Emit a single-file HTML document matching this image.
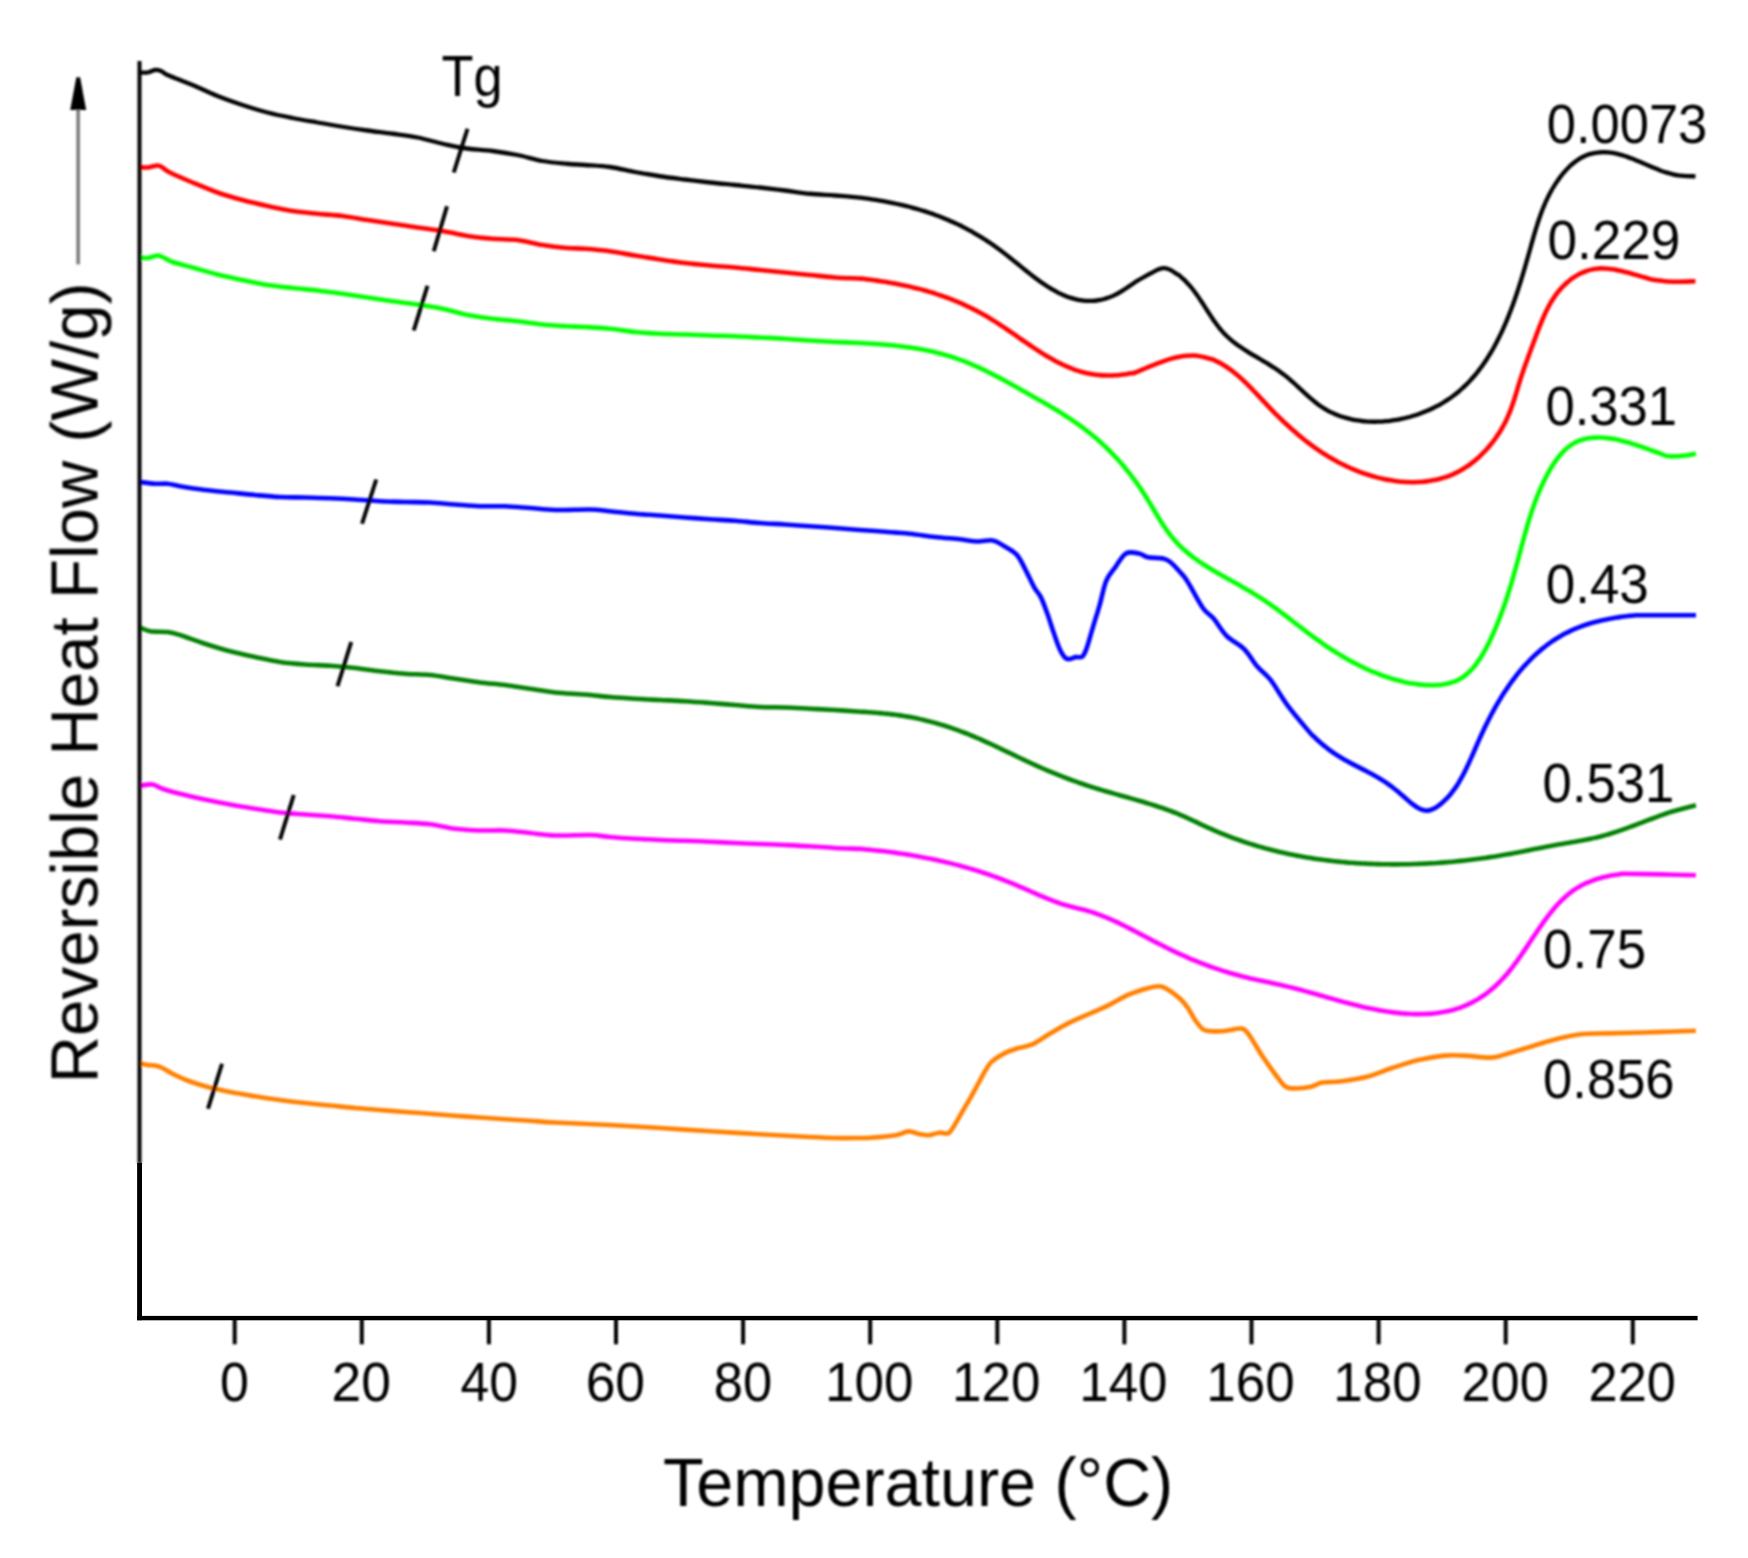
<!DOCTYPE html>
<html><head><meta charset="utf-8"><style>
html,body{margin:0;padding:0;background:#fff;}
svg{display:block;}
text{font-family:"Liberation Sans",Arial,sans-serif;fill:#000;}
</style></head><body>
<svg width="1748" height="1558" viewBox="0 0 1748 1558">
<defs><filter id="bl" filterUnits="userSpaceOnUse" x="0" y="0" width="1748" height="1558"><feGaussianBlur stdDeviation="0.9"/></filter></defs>
<rect width="1748" height="1558" fill="#fff"/>
<g filter="url(#bl)">
<!-- curves -->
<path d="M140.00,72.50 C141.25,72.50 145.00,72.92 147.50,72.50 C150.00,72.08 152.75,70.25 155.00,70.00 C157.25,69.75 158.92,70.17 161.00,71.00 C163.08,71.83 164.33,73.50 167.50,75.00 C170.67,76.50 175.42,78.17 180.00,80.00 C184.58,81.83 188.75,83.33 195.00,86.00 C201.25,88.67 209.58,92.83 217.50,96.00 C225.42,99.17 234.17,102.25 242.50,105.00 C250.83,107.75 259.17,110.33 267.50,112.50 C275.83,114.67 284.17,116.33 292.50,118.00 C300.83,119.67 309.17,121.04 317.50,122.50 C325.83,123.96 334.17,125.42 342.50,126.75 C350.83,128.08 359.17,129.33 367.50,130.50 C375.83,131.67 384.17,132.58 392.50,133.75 C400.83,134.92 409.17,135.83 417.50,137.50 C425.83,139.17 435.00,142.00 442.50,143.75 C450.00,145.50 454.17,146.79 462.50,148.00 C470.83,149.21 483.33,149.83 492.50,151.00 C501.67,152.17 509.17,153.33 517.50,155.00 C525.83,156.67 534.25,159.54 542.50,161.00 C550.75,162.46 559.92,163.08 567.00,163.75 C574.08,164.42 577.83,164.46 585.00,165.00 C592.17,165.54 601.67,165.83 610.00,167.00 C618.33,168.17 626.67,170.46 635.00,172.00 C643.33,173.54 651.67,175.00 660.00,176.25 C668.33,177.50 676.67,178.46 685.00,179.50 C693.33,180.54 701.67,181.58 710.00,182.50 C718.33,183.42 726.67,184.17 735.00,185.00 C743.33,185.83 751.67,186.58 760.00,187.50 C768.33,188.42 776.67,189.46 785.00,190.50 C793.33,191.54 801.67,192.92 810.00,193.75 C818.33,194.58 826.72,194.86 835.00,195.50 C843.28,196.14 854.87,197.15 859.66,197.59 C864.45,198.03 862.38,197.94 863.74,198.12 C865.10,198.30 866.46,198.49 867.82,198.68 C869.18,198.88 870.54,199.08 871.90,199.29 C873.26,199.49 874.62,199.71 875.97,199.93 C877.33,200.15 878.69,200.37 880.04,200.61 C881.40,200.84 882.75,201.08 884.10,201.33 C885.45,201.57 886.80,201.83 888.15,202.09 C889.50,202.35 890.84,202.61 892.18,202.89 C893.52,203.16 894.86,203.44 896.19,203.73 C897.53,204.02 898.86,204.32 900.19,204.62 C901.51,204.92 902.84,205.23 904.16,205.55 C905.47,205.87 906.79,206.19 908.10,206.53 C909.41,206.86 910.71,207.20 912.01,207.55 C913.31,207.89 914.61,208.25 915.89,208.61 C917.18,208.98 918.46,209.35 919.74,209.73 C921.02,210.11 922.29,210.49 923.55,210.89 C924.81,211.28 926.07,211.69 927.32,212.10 C928.57,212.51 929.81,212.93 931.05,213.36 C932.29,213.78 933.52,214.22 934.75,214.67 C935.98,215.11 937.20,215.56 938.41,216.03 C939.63,216.49 940.84,216.96 942.04,217.44 C943.25,217.92 944.45,218.41 945.64,218.90 C946.84,219.40 948.03,219.90 949.21,220.42 C950.40,220.93 951.58,221.46 952.75,221.99 C953.93,222.52 955.10,223.07 956.27,223.62 C957.44,224.17 958.60,224.73 959.76,225.30 C960.92,225.87 962.07,226.45 963.22,227.04 C964.37,227.63 965.52,228.23 966.66,228.83 C967.81,229.44 968.95,230.06 970.08,230.69 C971.22,231.32 972.35,231.95 973.48,232.60 C974.61,233.25 975.74,233.90 976.87,234.57 C977.99,235.24 979.11,235.92 980.23,236.60 C981.35,237.29 982.47,237.99 983.58,238.70 C984.69,239.41 985.81,240.12 986.91,240.85 C988.02,241.58 989.13,242.32 990.24,243.07 C991.34,243.82 992.45,244.58 993.55,245.35 C994.65,246.13 995.75,246.91 996.85,247.70 C997.95,248.49 999.05,249.30 1000.14,250.11 C1001.24,250.93 1002.33,251.75 1003.43,252.59 C1004.52,253.42 1005.62,254.27 1006.71,255.13 C1007.80,255.98 1008.89,256.85 1009.99,257.72 C1011.08,258.59 1012.17,259.47 1013.26,260.35 C1014.35,261.23 1015.45,262.12 1016.54,263.01 C1017.63,263.89 1018.72,264.78 1019.82,265.67 C1020.91,266.56 1022.01,267.45 1023.10,268.33 C1024.20,269.22 1025.30,270.10 1026.40,270.98 C1027.50,271.86 1028.60,272.73 1029.70,273.60 C1030.80,274.46 1031.90,275.33 1033.01,276.17 C1034.12,277.02 1035.23,277.86 1036.34,278.69 C1037.45,279.52 1038.56,280.34 1039.68,281.14 C1040.80,281.94 1041.92,282.73 1043.04,283.51 C1044.17,284.28 1045.29,285.04 1046.42,285.78 C1047.55,286.51 1048.69,287.24 1049.83,287.94 C1050.96,288.64 1052.11,289.32 1053.25,289.98 C1054.40,290.63 1055.55,291.27 1056.71,291.88 C1057.86,292.49 1059.02,293.08 1060.19,293.64 C1061.35,294.20 1062.52,294.73 1063.70,295.24 C1064.88,295.74 1066.06,296.22 1067.25,296.66 C1068.43,297.11 1069.63,297.52 1070.83,297.91 C1072.03,298.29 1073.23,298.64 1074.44,298.95 C1075.65,299.26 1076.87,299.54 1078.09,299.78 C1079.32,300.03 1080.54,300.23 1081.77,300.40 C1083.01,300.57 1084.24,300.70 1085.48,300.79 C1086.72,300.88 1087.96,300.94 1089.21,300.95 C1090.45,300.96 1091.70,300.93 1092.95,300.85 C1094.20,300.78 1095.45,300.66 1096.70,300.50 C1097.95,300.34 1099.21,300.14 1100.46,299.89 C1101.71,299.64 1102.97,299.34 1104.22,299.00 C1105.48,298.65 1106.73,298.26 1107.98,297.82 C1109.23,297.38 1110.49,296.89 1111.74,296.36 C1112.98,295.82 1114.23,295.22 1115.48,294.59 C1116.72,293.96 1117.97,293.27 1119.21,292.56 C1120.45,291.85 1121.69,291.10 1122.93,290.33 C1124.16,289.57 1125.40,288.77 1126.63,287.96 C1127.87,287.16 1129.10,286.33 1130.33,285.51 C1131.56,284.69 1132.78,283.85 1134.01,283.03 C1135.23,282.21 1132.91,283.05 1137.68,280.58 C1142.44,278.11 1155.93,269.21 1162.60,268.20 C1169.27,267.19 1174.69,273.09 1177.72,274.53 C1180.74,275.97 1179.76,276.01 1180.76,276.82 C1181.76,277.63 1182.74,278.49 1183.70,279.39 C1184.67,280.28 1185.61,281.21 1186.54,282.17 C1187.47,283.13 1188.38,284.13 1189.27,285.15 C1190.16,286.16 1191.03,287.20 1191.89,288.26 C1192.74,289.31 1193.58,290.38 1194.39,291.46 C1195.21,292.55 1196.01,293.65 1196.80,294.75 C1197.59,295.86 1198.36,296.97 1199.13,298.10 C1199.90,299.22 1200.65,300.35 1201.40,301.48 C1202.15,302.62 1202.88,303.76 1203.62,304.90 C1204.36,306.04 1205.09,307.18 1205.82,308.32 C1206.55,309.46 1207.28,310.60 1208.01,311.74 C1208.74,312.87 1209.47,314.00 1210.21,315.13 C1210.95,316.25 1211.69,317.37 1212.44,318.48 C1213.19,319.58 1213.94,320.68 1214.71,321.77 C1215.48,322.85 1216.26,323.93 1217.06,324.98 C1217.85,326.04 1218.66,327.08 1219.48,328.10 C1220.31,329.13 1221.15,330.13 1222.01,331.12 C1222.87,332.10 1223.75,333.06 1224.66,334.00 C1225.56,334.94 1226.49,335.85 1227.44,336.75 C1228.39,337.64 1229.36,338.51 1230.35,339.36 C1231.34,340.21 1232.35,341.04 1233.37,341.85 C1234.40,342.67 1235.45,343.46 1236.51,344.24 C1237.57,345.02 1238.64,345.79 1239.73,346.54 C1240.82,347.30 1241.92,348.03 1243.03,348.77 C1244.14,349.50 1245.27,350.22 1246.40,350.93 C1247.53,351.64 1248.68,352.34 1249.82,353.05 C1250.97,353.75 1252.13,354.44 1253.29,355.13 C1254.45,355.82 1255.61,356.51 1256.78,357.20 C1257.95,357.89 1259.12,358.57 1260.29,359.26 C1261.46,359.95 1262.63,360.64 1263.80,361.34 C1264.97,362.04 1266.14,362.73 1267.30,363.44 C1268.47,364.15 1269.63,364.86 1270.78,365.58 C1271.94,366.31 1273.09,367.04 1274.23,367.78 C1275.37,368.53 1276.50,369.28 1277.63,370.05 C1278.75,370.82 1279.86,371.60 1280.97,372.40 C1282.07,373.20 1283.16,374.02 1284.23,374.85 C1285.31,375.69 1286.37,376.54 1287.42,377.41 C1288.47,378.28 1289.51,379.16 1290.54,380.06 C1291.57,380.95 1292.59,381.86 1293.60,382.77 C1294.61,383.68 1295.62,384.60 1296.62,385.53 C1297.62,386.45 1298.62,387.38 1299.61,388.31 C1300.61,389.23 1301.60,390.16 1302.60,391.09 C1303.59,392.01 1304.59,392.93 1305.58,393.84 C1306.58,394.75 1307.58,395.66 1308.59,396.55 C1309.59,397.44 1310.60,398.32 1311.62,399.19 C1312.64,400.05 1313.66,400.91 1314.70,401.74 C1315.74,402.57 1316.78,403.38 1317.84,404.17 C1318.90,404.96 1319.97,405.73 1321.06,406.47 C1322.14,407.21 1323.24,407.92 1324.36,408.61 C1325.48,409.29 1326.61,409.95 1327.76,410.58 C1328.91,411.21 1330.07,411.81 1331.25,412.38 C1332.43,412.95 1333.62,413.49 1334.82,414.01 C1336.02,414.53 1337.24,415.02 1338.47,415.48 C1339.70,415.94 1340.94,416.38 1342.19,416.79 C1343.44,417.20 1344.70,417.58 1345.97,417.94 C1347.24,418.29 1348.53,418.63 1349.81,418.93 C1351.10,419.24 1352.40,419.51 1353.71,419.77 C1355.02,420.02 1356.33,420.25 1357.65,420.46 C1358.97,420.66 1360.30,420.84 1361.63,420.99 C1362.97,421.15 1364.31,421.28 1365.65,421.39 C1366.99,421.49 1368.34,421.57 1369.69,421.63 C1371.05,421.69 1372.40,421.73 1373.76,421.74 C1375.12,421.75 1376.48,421.74 1377.84,421.71 C1379.21,421.67 1380.57,421.61 1381.94,421.54 C1383.30,421.46 1384.67,421.35 1386.03,421.23 C1387.40,421.11 1388.76,420.96 1390.13,420.80 C1391.49,420.63 1392.85,420.44 1394.21,420.23 C1395.57,420.02 1396.93,419.79 1398.28,419.54 C1399.63,419.29 1400.99,419.01 1402.33,418.72 C1403.68,418.43 1405.02,418.12 1406.35,417.78 C1407.69,417.45 1409.02,417.10 1410.34,416.73 C1411.67,416.35 1412.99,415.96 1414.30,415.55 C1415.61,415.14 1416.91,414.71 1418.20,414.26 C1419.50,413.81 1420.78,413.35 1422.06,412.86 C1423.33,412.38 1424.60,411.87 1425.86,411.35 C1427.11,410.83 1428.36,410.29 1429.59,409.74 C1430.82,409.18 1432.05,408.61 1433.26,408.01 C1434.46,407.42 1435.66,406.82 1436.85,406.19 C1438.03,405.57 1439.20,404.93 1440.35,404.27 C1441.51,403.61 1442.65,402.94 1443.77,402.25 C1444.90,401.56 1446.01,400.85 1447.10,400.13 C1448.19,399.41 1449.27,398.68 1450.34,397.93 C1451.40,397.18 1452.45,396.41 1453.48,395.63 C1454.51,394.85 1455.53,394.06 1456.54,393.25 C1457.54,392.44 1458.53,391.62 1459.50,390.78 C1460.48,389.94 1461.44,389.09 1462.39,388.23 C1463.34,387.37 1464.27,386.49 1465.19,385.60 C1466.11,384.71 1467.02,383.81 1467.91,382.89 C1468.81,381.98 1469.69,381.05 1470.55,380.11 C1471.42,379.17 1472.28,378.22 1473.12,377.26 C1473.96,376.29 1474.79,375.32 1475.61,374.33 C1476.43,373.35 1477.23,372.35 1478.03,371.34 C1478.82,370.33 1479.61,369.31 1480.38,368.28 C1481.15,367.26 1481.91,366.22 1482.65,365.17 C1483.40,364.12 1484.14,363.06 1484.87,361.99 C1485.59,360.92 1486.31,359.84 1487.01,358.75 C1487.72,357.66 1488.41,356.57 1489.10,355.46 C1489.78,354.36 1490.46,353.24 1491.12,352.12 C1491.78,351.00 1492.44,349.86 1493.08,348.73 C1493.73,347.59 1494.36,346.44 1494.99,345.28 C1495.62,344.13 1496.23,342.97 1496.84,341.80 C1497.45,340.63 1498.05,339.45 1498.64,338.27 C1499.23,337.09 1499.82,335.90 1500.39,334.70 C1500.96,333.51 1501.53,332.30 1502.09,331.10 C1502.65,329.89 1503.20,328.67 1503.74,327.46 C1504.28,326.24 1504.82,325.01 1505.35,323.78 C1505.87,322.55 1506.40,321.32 1506.91,320.08 C1507.42,318.84 1507.93,317.59 1508.43,316.34 C1508.93,315.09 1509.43,313.84 1509.91,312.58 C1510.40,311.33 1510.88,310.06 1511.36,308.80 C1511.83,307.53 1512.30,306.26 1512.76,304.99 C1513.23,303.72 1513.69,302.44 1514.14,301.16 C1514.59,299.88 1515.04,298.60 1515.48,297.32 C1515.92,296.03 1516.36,294.74 1516.79,293.46 C1517.22,292.17 1517.65,290.87 1518.07,289.58 C1518.50,288.28 1518.91,286.99 1519.33,285.69 C1519.74,284.39 1520.15,283.09 1520.56,281.79 C1520.97,280.49 1521.37,279.19 1521.77,277.88 C1522.17,276.58 1522.56,275.27 1522.95,273.97 C1523.34,272.66 1523.73,271.36 1524.12,270.05 C1524.51,268.74 1524.89,267.44 1525.27,266.13 C1525.65,264.82 1526.03,263.52 1526.40,262.21 C1526.78,260.91 1527.15,259.60 1527.52,258.29 C1527.89,256.99 1528.26,255.68 1528.63,254.38 C1528.99,253.08 1529.36,251.78 1529.72,250.47 C1530.09,249.17 1530.45,247.87 1530.81,246.58 C1531.18,245.28 1531.54,243.98 1531.90,242.69 C1532.26,241.39 1532.63,240.10 1532.99,238.81 C1533.36,237.52 1533.73,236.23 1534.10,234.95 C1534.47,233.67 1534.85,232.38 1535.23,231.10 C1535.61,229.83 1535.99,228.55 1536.39,227.28 C1536.78,226.01 1537.18,224.74 1537.58,223.47 C1537.99,222.21 1538.40,220.95 1538.83,219.69 C1539.25,218.43 1539.68,217.18 1540.13,215.93 C1540.57,214.68 1541.02,213.44 1541.49,212.20 C1541.96,210.96 1542.43,209.73 1542.92,208.50 C1543.42,207.27 1543.92,206.04 1544.44,204.82 C1544.96,203.61 1545.49,202.39 1546.04,201.19 C1546.59,199.98 1547.15,198.78 1547.74,197.58 C1548.32,196.39 1548.92,195.20 1549.54,194.02 C1550.16,192.83 1550.79,191.66 1551.45,190.49 C1552.11,189.32 1552.79,188.16 1553.48,187.00 C1554.18,185.85 1554.90,184.70 1555.65,183.56 C1556.39,182.42 1557.15,181.29 1557.94,180.17 C1558.73,179.06 1559.53,177.95 1560.36,176.86 C1561.19,175.78 1562.04,174.71 1562.90,173.66 C1563.77,172.62 1564.66,171.59 1565.56,170.60 C1566.47,169.60 1567.39,168.63 1568.34,167.69 C1569.28,166.75 1570.24,165.84 1571.21,164.96 C1572.19,164.09 1573.19,163.25 1574.20,162.45 C1575.21,161.66 1576.23,160.89 1577.28,160.18 C1578.32,159.47 1579.38,158.79 1580.45,158.17 C1581.52,157.55 1582.61,156.98 1583.71,156.46 C1584.81,155.93 1585.92,155.46 1587.05,155.04 C1588.18,154.62 1589.32,154.24 1590.47,153.92 C1591.62,153.59 1592.79,153.32 1593.96,153.08 C1595.14,152.85 1596.33,152.67 1597.53,152.53 C1598.72,152.39 1599.93,152.30 1601.15,152.25 C1602.37,152.20 1603.60,152.19 1604.83,152.23 C1606.07,152.27 1607.32,152.35 1608.57,152.47 C1609.82,152.59 1611.09,152.76 1612.35,152.96 C1613.62,153.17 1614.90,153.41 1616.18,153.69 C1617.46,153.98 1618.75,154.30 1620.05,154.65 C1621.34,155.01 1622.64,155.40 1623.95,155.81 C1625.25,156.22 1626.56,156.67 1627.88,157.14 C1629.19,157.60 1630.51,158.09 1631.83,158.60 C1633.15,159.11 1634.47,159.63 1635.80,160.17 C1637.13,160.71 1638.46,161.26 1639.79,161.82 C1641.12,162.38 1642.45,162.95 1643.78,163.52 C1645.11,164.09 1646.45,164.67 1647.78,165.24 C1649.11,165.81 1650.44,166.38 1651.78,166.95 C1653.11,167.51 1654.44,168.07 1655.77,168.61 C1657.10,169.16 1658.43,169.69 1659.75,170.21 C1661.07,170.72 1660.66,170.84 1663.72,171.70 C1666.77,172.57 1672.80,174.62 1678.10,175.40 C1683.40,176.18 1692.60,176.23 1695.50,176.40" stroke="#000000" stroke-width="4.3" fill="none" stroke-linejoin="round" stroke-linecap="butt"/>
<path d="M140.00,167.00 C141.25,167.08 144.58,167.75 147.50,167.50 C150.42,167.25 155.00,165.50 157.50,165.50 C160.00,165.50 160.42,166.33 162.50,167.50 C164.58,168.67 165.00,170.00 170.00,172.50 C175.00,175.00 184.58,179.17 192.50,182.50 C200.42,185.83 209.17,189.58 217.50,192.50 C225.83,195.42 234.17,197.75 242.50,200.00 C250.83,202.25 259.17,204.17 267.50,206.00 C275.83,207.83 284.17,209.71 292.50,211.00 C300.83,212.29 309.17,212.92 317.50,213.75 C325.83,214.58 334.17,214.96 342.50,216.00 C350.83,217.04 359.17,218.71 367.50,220.00 C375.83,221.29 384.17,222.50 392.50,223.75 C400.83,225.00 409.17,226.29 417.50,227.50 C425.83,228.71 434.17,229.58 442.50,231.00 C450.83,232.42 459.17,234.71 467.50,236.00 C475.83,237.29 484.17,238.08 492.50,238.75 C500.83,239.42 509.17,238.96 517.50,240.00 C525.83,241.04 534.25,243.67 542.50,245.00 C550.75,246.33 559.92,247.38 567.00,248.00 C574.08,248.62 577.83,248.21 585.00,248.75 C592.17,249.29 601.67,250.12 610.00,251.25 C618.33,252.38 626.67,254.12 635.00,255.50 C643.33,256.88 651.67,258.25 660.00,259.50 C668.33,260.75 676.67,262.00 685.00,263.00 C693.33,264.00 701.67,264.75 710.00,265.50 C718.33,266.25 726.67,266.75 735.00,267.50 C743.33,268.25 751.67,269.17 760.00,270.00 C768.33,270.83 776.67,271.67 785.00,272.50 C793.33,273.33 801.67,274.17 810.00,275.00 C818.33,275.83 826.55,276.90 835.00,277.50 C843.45,278.10 855.75,278.35 860.71,278.61 C865.67,278.87 863.40,278.90 864.74,279.06 C866.08,279.21 867.42,279.38 868.76,279.54 C870.10,279.71 871.44,279.88 872.77,280.06 C874.11,280.23 875.44,280.42 876.77,280.61 C878.10,280.79 879.43,280.99 880.75,281.19 C882.08,281.39 883.41,281.59 884.73,281.80 C886.05,282.02 887.37,282.23 888.69,282.46 C890.01,282.68 891.32,282.91 892.64,283.15 C893.95,283.39 895.27,283.63 896.58,283.88 C897.89,284.13 899.19,284.39 900.50,284.65 C901.80,284.91 903.11,285.18 904.41,285.46 C905.71,285.74 907.01,286.02 908.31,286.32 C909.60,286.61 910.90,286.91 912.19,287.22 C913.48,287.52 914.77,287.84 916.06,288.16 C917.34,288.48 918.63,288.81 919.91,289.15 C921.19,289.49 922.47,289.83 923.75,290.19 C925.03,290.54 926.30,290.90 927.58,291.27 C928.85,291.64 930.12,292.02 931.39,292.41 C932.65,292.80 933.92,293.19 935.18,293.60 C936.44,294.00 937.70,294.42 938.96,294.84 C940.21,295.26 941.47,295.69 942.72,296.13 C943.97,296.57 945.22,297.02 946.47,297.48 C947.71,297.94 948.96,298.41 950.20,298.89 C951.44,299.37 952.67,299.86 953.91,300.35 C955.14,300.85 956.38,301.36 957.60,301.88 C958.83,302.39 960.06,302.92 961.28,303.46 C962.51,304.00 963.73,304.54 964.94,305.10 C966.16,305.66 967.37,306.23 968.59,306.81 C969.80,307.39 971.00,307.98 972.21,308.58 C973.41,309.18 974.62,309.79 975.82,310.41 C977.01,311.03 978.21,311.67 979.40,312.31 C980.59,312.96 981.78,313.61 982.97,314.28 C984.16,314.95 985.34,315.63 986.52,316.32 C987.70,317.01 988.87,317.71 990.05,318.43 C991.22,319.14 992.39,319.86 993.56,320.59 C994.73,321.33 995.89,322.07 997.06,322.82 C998.22,323.57 999.38,324.33 1000.54,325.09 C1001.69,325.85 1002.85,326.63 1004.01,327.40 C1005.16,328.18 1006.31,328.96 1007.46,329.74 C1008.62,330.53 1009.77,331.31 1010.91,332.10 C1012.06,332.90 1013.21,333.69 1014.36,334.48 C1015.51,335.28 1016.65,336.07 1017.80,336.87 C1018.94,337.66 1020.09,338.46 1021.24,339.25 C1022.38,340.04 1023.53,340.84 1024.67,341.62 C1025.82,342.41 1026.96,343.20 1028.11,343.98 C1029.26,344.76 1030.40,345.54 1031.55,346.31 C1032.70,347.08 1033.85,347.85 1035.00,348.61 C1036.15,349.37 1037.30,350.12 1038.45,350.86 C1039.60,351.60 1040.76,352.34 1041.91,353.07 C1043.07,353.79 1044.23,354.51 1045.39,355.21 C1046.55,355.92 1047.71,356.61 1048.87,357.29 C1050.04,357.97 1051.20,358.64 1052.37,359.30 C1053.54,359.95 1054.72,360.59 1055.89,361.22 C1057.07,361.85 1058.25,362.46 1059.43,363.05 C1060.61,363.65 1061.80,364.23 1062.99,364.79 C1064.17,365.35 1065.37,365.89 1066.56,366.42 C1067.76,366.94 1068.96,367.45 1070.17,367.93 C1071.37,368.41 1072.58,368.88 1073.80,369.32 C1075.01,369.76 1076.23,370.18 1077.46,370.58 C1078.68,370.98 1079.91,371.35 1081.15,371.70 C1082.38,372.05 1083.62,372.37 1084.87,372.67 C1086.11,372.97 1087.36,373.25 1088.62,373.50 C1089.87,373.75 1091.13,373.98 1092.40,374.18 C1093.66,374.38 1094.93,374.56 1096.21,374.72 C1097.48,374.87 1098.76,375.00 1100.04,375.11 C1101.32,375.21 1102.61,375.30 1103.89,375.36 C1105.18,375.42 1106.48,375.45 1107.77,375.47 C1109.06,375.48 1110.36,375.47 1111.66,375.44 C1112.96,375.41 1114.27,375.36 1115.57,375.28 C1116.88,375.20 1118.19,375.10 1119.50,374.98 C1120.81,374.86 1122.12,374.72 1123.43,374.55 C1124.75,374.38 1126.06,374.20 1127.38,373.99 C1128.69,373.78 1130.01,373.55 1131.33,373.30 C1132.65,373.05 1131.73,373.81 1135.29,372.48 C1138.85,371.15 1146.15,367.76 1152.70,365.30 C1159.25,362.84 1167.68,359.33 1174.60,357.70 C1181.52,356.07 1187.96,355.22 1194.20,355.50 C1200.44,355.78 1208.51,358.47 1212.07,359.35 C1215.63,360.23 1214.39,360.27 1215.54,360.78 C1216.68,361.29 1217.81,361.84 1218.92,362.41 C1220.04,362.98 1221.14,363.59 1222.23,364.22 C1223.32,364.85 1224.40,365.51 1225.47,366.19 C1226.54,366.88 1227.59,367.59 1228.64,368.33 C1229.69,369.06 1230.73,369.82 1231.76,370.60 C1232.79,371.38 1233.81,372.19 1234.82,373.01 C1235.83,373.83 1236.83,374.67 1237.83,375.53 C1238.83,376.39 1239.82,377.27 1240.80,378.16 C1241.78,379.05 1242.76,379.96 1243.73,380.88 C1244.70,381.80 1245.67,382.73 1246.63,383.68 C1247.59,384.62 1248.55,385.58 1249.50,386.54 C1250.46,387.51 1251.41,388.48 1252.36,389.46 C1253.30,390.44 1254.25,391.43 1255.19,392.43 C1256.14,393.42 1257.08,394.42 1258.02,395.42 C1258.96,396.42 1259.90,397.42 1260.84,398.42 C1261.78,399.43 1262.72,400.43 1263.66,401.43 C1264.60,402.43 1265.54,403.44 1266.49,404.43 C1267.43,405.43 1268.38,406.42 1269.33,407.41 C1270.28,408.40 1271.23,409.38 1272.18,410.36 C1273.14,411.34 1274.09,412.31 1275.06,413.27 C1276.02,414.24 1276.98,415.20 1277.95,416.15 C1278.91,417.10 1279.88,418.05 1280.86,418.99 C1281.83,419.93 1282.81,420.87 1283.79,421.80 C1284.77,422.72 1285.75,423.65 1286.74,424.56 C1287.73,425.47 1288.72,426.38 1289.72,427.28 C1290.71,428.18 1291.71,429.08 1292.72,429.96 C1293.72,430.85 1294.73,431.72 1295.74,432.59 C1296.75,433.46 1297.77,434.33 1298.79,435.18 C1299.82,436.04 1300.84,436.88 1301.87,437.72 C1302.91,438.56 1303.94,439.39 1304.98,440.21 C1306.02,441.03 1307.07,441.84 1308.12,442.64 C1309.18,443.45 1310.23,444.24 1311.29,445.03 C1312.36,445.81 1313.43,446.59 1314.50,447.36 C1315.57,448.12 1316.65,448.88 1317.74,449.63 C1318.82,450.38 1319.91,451.11 1321.01,451.84 C1322.11,452.57 1323.21,453.29 1324.32,453.99 C1325.43,454.70 1326.55,455.40 1327.67,456.09 C1328.79,456.77 1329.92,457.45 1331.06,458.11 C1332.19,458.78 1333.33,459.43 1334.48,460.08 C1335.63,460.72 1336.79,461.35 1337.95,461.97 C1339.11,462.59 1340.28,463.20 1341.46,463.80 C1342.64,464.40 1343.82,464.98 1345.01,465.56 C1346.21,466.13 1347.41,466.69 1348.61,467.24 C1349.82,467.79 1351.04,468.33 1352.26,468.86 C1353.48,469.38 1354.71,469.89 1355.95,470.39 C1357.19,470.89 1358.44,471.38 1359.69,471.86 C1360.94,472.33 1362.21,472.79 1363.47,473.24 C1364.74,473.68 1366.02,474.11 1367.30,474.53 C1368.58,474.95 1369.87,475.35 1371.16,475.74 C1372.45,476.13 1373.75,476.50 1375.05,476.86 C1376.35,477.21 1377.65,477.55 1378.96,477.88 C1380.27,478.20 1381.59,478.51 1382.90,478.80 C1384.22,479.09 1385.54,479.36 1386.86,479.62 C1388.19,479.88 1389.51,480.11 1390.84,480.33 C1392.16,480.55 1393.49,480.75 1394.82,480.94 C1396.15,481.12 1397.48,481.28 1398.81,481.43 C1400.14,481.57 1401.47,481.70 1402.80,481.80 C1404.13,481.90 1405.46,481.99 1406.79,482.05 C1408.12,482.12 1409.44,482.16 1410.77,482.18 C1412.09,482.20 1413.42,482.20 1414.74,482.18 C1416.06,482.16 1417.38,482.11 1418.69,482.05 C1420.01,481.98 1421.32,481.89 1422.63,481.78 C1423.94,481.66 1425.24,481.53 1426.54,481.37 C1427.84,481.21 1429.13,481.03 1430.42,480.82 C1431.71,480.61 1433.00,480.38 1434.27,480.12 C1435.55,479.86 1436.82,479.58 1438.09,479.27 C1439.35,478.96 1440.61,478.63 1441.86,478.27 C1443.11,477.91 1444.36,477.52 1445.59,477.11 C1446.83,476.70 1448.05,476.26 1449.27,475.79 C1450.49,475.32 1451.70,474.83 1452.90,474.30 C1454.10,473.78 1455.29,473.23 1456.46,472.65 C1457.64,472.07 1458.81,471.46 1459.97,470.82 C1461.13,470.18 1462.28,469.52 1463.41,468.82 C1464.54,468.13 1465.67,467.41 1466.78,466.66 C1467.89,465.91 1468.99,465.14 1470.07,464.34 C1471.16,463.55 1472.23,462.73 1473.29,461.88 C1474.35,461.04 1475.39,460.17 1476.42,459.29 C1477.45,458.40 1478.47,457.49 1479.47,456.56 C1480.47,455.63 1481.45,454.68 1482.42,453.71 C1483.39,452.75 1484.34,451.76 1485.28,450.76 C1486.21,449.76 1487.13,448.74 1488.04,447.70 C1488.94,446.67 1489.82,445.62 1490.69,444.55 C1491.56,443.49 1492.40,442.41 1493.23,441.32 C1494.06,440.23 1494.87,439.13 1495.67,438.01 C1496.46,436.90 1497.23,435.77 1497.98,434.64 C1498.73,433.50 1499.46,432.36 1500.17,431.21 C1500.88,430.05 1501.57,428.89 1502.24,427.73 C1502.91,426.56 1503.56,425.38 1504.18,424.21 C1504.80,423.03 1505.40,421.84 1505.98,420.66 C1506.56,419.47 1507.12,418.28 1507.65,417.08 C1508.18,415.89 1508.69,414.69 1509.18,413.49 C1509.68,412.29 1510.15,411.09 1510.61,409.88 C1511.07,408.68 1511.51,407.47 1511.94,406.25 C1512.36,405.04 1512.78,403.83 1513.19,402.61 C1513.59,401.39 1513.99,400.17 1514.38,398.95 C1514.77,397.73 1515.15,396.50 1515.53,395.27 C1515.90,394.04 1516.28,392.81 1516.65,391.58 C1517.02,390.34 1517.39,389.11 1517.77,387.87 C1518.14,386.63 1518.52,385.39 1518.90,384.14 C1519.28,382.90 1519.67,381.65 1520.06,380.40 C1520.46,379.15 1520.86,377.90 1521.27,376.64 C1521.68,375.39 1522.10,374.13 1522.53,372.87 C1522.96,371.61 1523.39,370.35 1523.83,369.08 C1524.28,367.82 1524.72,366.55 1525.18,365.28 C1525.63,364.01 1526.09,362.74 1526.56,361.46 C1527.02,360.19 1527.49,358.91 1527.96,357.63 C1528.43,356.35 1528.90,355.07 1529.38,353.78 C1529.86,352.50 1530.34,351.21 1530.82,349.92 C1531.30,348.63 1531.78,347.34 1532.26,346.05 C1532.74,344.76 1533.22,343.46 1533.70,342.16 C1534.18,340.87 1534.66,339.57 1535.14,338.27 C1535.62,336.97 1536.10,335.67 1536.59,334.37 C1537.07,333.07 1537.56,331.77 1538.05,330.48 C1538.54,329.19 1539.04,327.90 1539.55,326.61 C1540.05,325.33 1540.56,324.05 1541.08,322.78 C1541.60,321.50 1542.13,320.24 1542.67,318.98 C1543.21,317.72 1543.76,316.48 1544.32,315.24 C1544.88,314.00 1545.45,312.77 1546.04,311.56 C1546.63,310.34 1547.23,309.14 1547.85,307.95 C1548.47,306.76 1549.10,305.58 1549.75,304.42 C1550.40,303.26 1551.07,302.11 1551.76,300.99 C1552.45,299.86 1553.15,298.75 1553.88,297.66 C1554.61,296.57 1555.36,295.49 1556.14,294.44 C1556.91,293.39 1557.71,292.36 1558.53,291.35 C1559.35,290.35 1560.20,289.36 1561.07,288.40 C1561.94,287.44 1562.83,286.50 1563.74,285.60 C1564.66,284.69 1565.59,283.81 1566.55,282.96 C1567.51,282.10 1568.48,281.28 1569.48,280.49 C1570.48,279.70 1571.50,278.94 1572.53,278.21 C1573.57,277.49 1574.63,276.80 1575.70,276.14 C1576.77,275.49 1577.86,274.86 1578.97,274.28 C1580.08,273.70 1581.21,273.16 1582.35,272.66 C1583.49,272.15 1584.64,271.69 1585.82,271.27 C1586.99,270.85 1588.17,270.47 1589.37,270.14 C1590.57,269.81 1591.79,269.52 1593.01,269.28 C1594.24,269.04 1595.48,268.85 1596.73,268.70 C1597.98,268.56 1599.24,268.47 1600.51,268.42 C1601.79,268.37 1603.07,268.38 1604.36,268.43 C1605.66,268.47 1606.96,268.56 1608.27,268.69 C1609.58,268.81 1610.90,268.98 1612.23,269.18 C1613.56,269.38 1614.89,269.61 1616.23,269.87 C1617.57,270.12 1618.92,270.41 1620.27,270.72 C1621.63,271.03 1622.99,271.36 1624.35,271.71 C1625.71,272.05 1627.08,272.42 1628.45,272.80 C1629.82,273.17 1631.20,273.56 1632.57,273.96 C1633.95,274.35 1635.33,274.76 1636.71,275.16 C1638.09,275.56 1639.47,275.97 1640.85,276.37 C1642.23,276.77 1643.62,277.18 1645.00,277.57 C1646.38,277.96 1647.76,278.34 1649.14,278.71 C1650.52,279.07 1649.31,279.27 1653.27,279.76 C1657.23,280.26 1665.86,281.46 1672.90,281.70 C1679.94,281.94 1691.73,281.28 1695.50,281.20" stroke="#ff0000" stroke-width="4.6" fill="none" stroke-linejoin="round" stroke-linecap="butt"/>
<path d="M140.00,257.50 C141.25,257.58 144.58,258.33 147.50,258.00 C150.42,257.67 155.00,255.67 157.50,255.50 C160.00,255.33 160.00,255.92 162.50,257.00 C165.00,258.08 167.50,260.25 172.50,262.00 C177.50,263.75 185.00,265.42 192.50,267.50 C200.00,269.58 209.17,272.42 217.50,274.50 C225.83,276.58 234.17,278.25 242.50,280.00 C250.83,281.75 259.17,283.67 267.50,285.00 C275.83,286.33 284.17,287.08 292.50,288.00 C300.83,288.92 309.17,289.54 317.50,290.50 C325.83,291.46 334.17,292.58 342.50,293.75 C350.83,294.92 359.17,296.25 367.50,297.50 C375.83,298.75 384.17,300.08 392.50,301.25 C400.83,302.42 409.17,303.25 417.50,304.50 C425.83,305.75 434.17,307.00 442.50,308.75 C450.83,310.50 459.17,313.33 467.50,315.00 C475.83,316.67 484.17,317.71 492.50,318.75 C500.83,319.79 509.17,320.29 517.50,321.25 C525.83,322.21 534.25,323.67 542.50,324.50 C550.75,325.33 559.92,325.83 567.00,326.25 C574.08,326.67 577.83,326.58 585.00,327.00 C592.17,327.42 601.67,327.92 610.00,328.75 C618.33,329.58 626.67,331.17 635.00,332.00 C643.33,332.83 651.67,333.33 660.00,333.75 C668.33,334.17 676.67,334.21 685.00,334.50 C693.33,334.79 701.67,335.21 710.00,335.50 C718.33,335.79 726.67,335.92 735.00,336.25 C743.33,336.58 751.67,337.08 760.00,337.50 C768.33,337.92 776.67,338.25 785.00,338.75 C793.33,339.25 801.67,339.96 810.00,340.50 C818.33,341.04 826.64,341.57 835.00,342.00 C843.36,342.43 855.28,342.84 860.13,343.06 C864.99,343.27 862.80,343.20 864.14,343.27 C865.47,343.34 866.80,343.42 868.13,343.50 C869.47,343.58 870.80,343.66 872.13,343.74 C873.46,343.83 874.79,343.92 876.12,344.01 C877.45,344.10 878.77,344.20 880.10,344.30 C881.43,344.40 882.75,344.50 884.08,344.61 C885.40,344.72 886.73,344.84 888.05,344.95 C889.37,345.07 890.70,345.20 892.02,345.33 C893.34,345.46 894.66,345.59 895.98,345.74 C897.30,345.88 898.61,346.02 899.93,346.18 C901.25,346.33 902.56,346.49 903.88,346.66 C905.19,346.83 906.50,347.00 907.81,347.19 C909.12,347.37 910.44,347.56 911.74,347.76 C913.05,347.95 914.36,348.16 915.67,348.37 C916.97,348.59 918.28,348.81 919.58,349.04 C920.88,349.27 922.18,349.51 923.48,349.76 C924.78,350.01 926.08,350.27 927.38,350.53 C928.67,350.80 929.97,351.08 931.26,351.37 C932.56,351.66 933.85,351.95 935.14,352.26 C936.43,352.57 937.72,352.89 939.00,353.22 C940.29,353.55 941.57,353.89 942.86,354.25 C944.14,354.60 945.42,354.97 946.70,355.34 C947.98,355.72 949.26,356.11 950.53,356.51 C951.81,356.91 953.08,357.32 954.35,357.75 C955.62,358.18 956.89,358.62 958.16,359.07 C959.42,359.52 960.69,359.99 961.95,360.47 C963.21,360.94 964.48,361.43 965.73,361.93 C966.99,362.43 968.25,362.95 969.50,363.47 C970.76,363.99 972.01,364.53 973.26,365.07 C974.51,365.61 975.75,366.16 977.00,366.72 C978.24,367.29 979.48,367.86 980.72,368.43 C981.96,369.01 983.20,369.60 984.44,370.19 C985.67,370.79 986.90,371.39 988.13,372.00 C989.36,372.61 990.59,373.22 991.81,373.84 C993.04,374.46 994.26,375.09 995.48,375.72 C996.70,376.35 997.92,376.99 999.13,377.63 C1000.34,378.27 1001.55,378.92 1002.76,379.57 C1003.97,380.22 1005.18,380.87 1006.38,381.53 C1007.58,382.18 1008.78,382.84 1009.98,383.50 C1011.17,384.16 1012.37,384.83 1013.56,385.49 C1014.75,386.15 1015.94,386.82 1017.12,387.48 C1018.31,388.15 1019.49,388.82 1020.67,389.48 C1021.85,390.15 1023.02,390.82 1024.20,391.48 C1025.37,392.14 1026.54,392.81 1027.70,393.47 C1028.87,394.13 1030.03,394.79 1031.19,395.45 C1032.35,396.11 1033.51,396.77 1034.66,397.42 C1035.81,398.08 1036.96,398.74 1038.11,399.39 C1039.26,400.05 1040.40,400.70 1041.54,401.36 C1042.68,402.02 1043.81,402.67 1044.95,403.33 C1046.08,403.99 1047.21,404.65 1048.33,405.31 C1049.46,405.97 1050.58,406.63 1051.70,407.30 C1052.82,407.96 1053.93,408.63 1055.04,409.30 C1056.15,409.97 1057.26,410.65 1058.36,411.33 C1059.47,412.01 1060.57,412.69 1061.66,413.38 C1062.76,414.06 1063.85,414.75 1064.94,415.45 C1066.03,416.15 1067.11,416.85 1068.19,417.56 C1069.27,418.27 1070.35,418.98 1071.42,419.70 C1072.49,420.42 1073.56,421.15 1074.63,421.88 C1075.69,422.62 1076.75,423.36 1077.81,424.11 C1078.86,424.86 1079.92,425.62 1080.96,426.38 C1082.01,427.15 1083.06,427.92 1084.09,428.71 C1085.13,429.49 1086.17,430.29 1087.20,431.09 C1088.23,431.89 1089.26,432.71 1090.28,433.53 C1091.30,434.36 1092.32,435.19 1093.34,436.04 C1094.35,436.88 1095.36,437.74 1096.36,438.61 C1097.37,439.47 1098.37,440.35 1099.36,441.24 C1100.36,442.13 1101.35,443.03 1102.33,443.93 C1103.31,444.84 1104.29,445.76 1105.26,446.69 C1106.24,447.61 1107.20,448.55 1108.16,449.50 C1109.12,450.44 1110.08,451.40 1111.03,452.36 C1111.97,453.33 1112.92,454.30 1113.85,455.28 C1114.79,456.27 1115.71,457.26 1116.64,458.26 C1117.56,459.25 1118.47,460.26 1119.38,461.28 C1120.28,462.29 1121.18,463.31 1122.07,464.34 C1122.97,465.37 1123.85,466.41 1124.73,467.46 C1125.60,468.50 1126.47,469.55 1127.33,470.61 C1128.19,471.67 1129.04,472.74 1129.88,473.81 C1130.72,474.88 1131.56,475.96 1132.38,477.05 C1133.21,478.13 1134.02,479.22 1134.83,480.32 C1135.63,481.42 1136.43,482.52 1137.22,483.63 C1138.01,484.74 1138.78,485.86 1139.55,486.98 C1140.32,488.09 1141.08,489.22 1141.83,490.35 C1142.57,491.48 1143.31,492.62 1144.04,493.75 C1144.77,494.89 1145.48,496.04 1146.19,497.18 C1146.91,498.33 1147.61,499.48 1148.31,500.62 C1149.01,501.77 1149.70,502.92 1150.39,504.07 C1151.08,505.22 1151.76,506.37 1152.45,507.52 C1153.13,508.67 1153.81,509.82 1154.50,510.96 C1155.18,512.11 1155.87,513.25 1156.55,514.38 C1157.24,515.52 1157.93,516.65 1158.62,517.78 C1159.32,518.90 1160.01,520.03 1160.72,521.14 C1161.42,522.25 1162.13,523.36 1162.85,524.46 C1163.57,525.55 1164.30,526.64 1165.04,527.72 C1165.77,528.80 1166.52,529.87 1167.28,530.93 C1168.04,531.99 1168.81,533.04 1169.60,534.07 C1170.39,535.10 1171.19,536.12 1172.00,537.13 C1172.82,538.14 1173.65,539.13 1174.50,540.11 C1175.36,541.09 1176.23,542.05 1177.11,543.00 C1178.00,543.94 1178.91,544.87 1179.84,545.79 C1180.76,546.70 1181.71,547.60 1182.67,548.48 C1183.63,549.37 1184.61,550.24 1185.60,551.10 C1186.59,551.95 1187.60,552.80 1188.63,553.63 C1189.65,554.46 1190.69,555.28 1191.74,556.09 C1192.79,556.89 1193.86,557.69 1194.93,558.48 C1196.01,559.26 1197.10,560.04 1198.20,560.80 C1199.30,561.57 1200.41,562.32 1201.53,563.07 C1202.65,563.82 1203.78,564.56 1204.92,565.29 C1206.05,566.02 1207.20,566.74 1208.36,567.46 C1209.51,568.18 1210.67,568.88 1211.84,569.59 C1213.01,570.29 1214.18,570.99 1215.36,571.69 C1216.54,572.38 1217.72,573.07 1218.91,573.75 C1220.10,574.44 1221.29,575.12 1222.49,575.80 C1223.68,576.48 1224.88,577.15 1226.08,577.82 C1227.28,578.50 1228.48,579.17 1229.68,579.84 C1230.88,580.51 1232.08,581.18 1233.28,581.85 C1234.48,582.52 1235.68,583.18 1236.87,583.85 C1238.07,584.53 1239.27,585.20 1240.46,585.87 C1241.65,586.54 1242.84,587.21 1244.02,587.89 C1245.21,588.57 1246.39,589.25 1247.56,589.93 C1248.73,590.62 1249.90,591.30 1251.06,592.00 C1252.22,592.69 1253.38,593.38 1254.53,594.09 C1255.67,594.79 1256.81,595.50 1257.94,596.21 C1259.07,596.93 1260.19,597.65 1261.31,598.37 C1262.42,599.10 1263.52,599.83 1264.62,600.57 C1265.72,601.31 1266.81,602.05 1267.89,602.80 C1268.97,603.55 1270.05,604.30 1271.12,605.06 C1272.19,605.82 1273.26,606.58 1274.32,607.35 C1275.38,608.11 1276.43,608.88 1277.48,609.66 C1278.53,610.43 1279.58,611.21 1280.62,611.99 C1281.67,612.77 1282.71,613.55 1283.75,614.33 C1284.78,615.12 1285.82,615.91 1286.85,616.70 C1287.89,617.48 1288.92,618.28 1289.95,619.07 C1290.98,619.86 1292.01,620.66 1293.04,621.45 C1294.07,622.24 1295.10,623.04 1296.13,623.84 C1297.17,624.63 1298.20,625.43 1299.23,626.22 C1300.27,627.02 1301.30,627.82 1302.34,628.61 C1303.38,629.41 1304.42,630.20 1305.46,630.99 C1306.50,631.79 1307.55,632.58 1308.60,633.37 C1309.65,634.16 1310.71,634.95 1311.77,635.73 C1312.83,636.52 1313.89,637.30 1314.96,638.09 C1316.03,638.87 1317.11,639.65 1318.19,640.42 C1319.27,641.20 1320.36,641.97 1321.46,642.74 C1322.56,643.51 1323.66,644.27 1324.77,645.03 C1325.88,645.79 1327.00,646.55 1328.13,647.30 C1329.25,648.05 1330.39,648.80 1331.53,649.54 C1332.67,650.28 1333.82,651.01 1334.97,651.74 C1336.13,652.47 1337.29,653.19 1338.45,653.91 C1339.62,654.62 1340.79,655.33 1341.97,656.03 C1343.15,656.74 1344.34,657.43 1345.53,658.12 C1346.73,658.80 1347.92,659.48 1349.13,660.15 C1350.33,660.82 1351.54,661.48 1352.76,662.13 C1353.97,662.78 1355.19,663.43 1356.42,664.06 C1357.64,664.69 1358.87,665.32 1360.11,665.93 C1361.35,666.54 1362.59,667.14 1363.83,667.73 C1365.08,668.32 1366.33,668.90 1367.58,669.47 C1368.84,670.04 1370.10,670.60 1371.36,671.14 C1372.62,671.69 1373.89,672.22 1375.16,672.74 C1376.43,673.25 1377.71,673.76 1378.99,674.25 C1380.26,674.75 1381.55,675.23 1382.83,675.69 C1384.12,676.15 1385.41,676.61 1386.70,677.04 C1387.99,677.48 1389.29,677.90 1390.59,678.31 C1391.89,678.71 1393.19,679.10 1394.49,679.48 C1395.80,679.85 1397.10,680.21 1398.41,680.55 C1399.72,680.89 1401.03,681.22 1402.35,681.53 C1403.66,681.84 1404.98,682.13 1406.29,682.40 C1407.61,682.67 1408.93,682.93 1410.25,683.17 C1411.57,683.40 1412.90,683.62 1414.22,683.82 C1415.55,684.02 1416.87,684.20 1418.20,684.36 C1419.52,684.53 1420.85,684.67 1422.18,684.79 C1423.51,684.91 1424.84,685.01 1426.16,685.09 C1427.49,685.16 1428.82,685.21 1430.13,685.24 C1431.45,685.26 1432.77,685.26 1434.07,685.23 C1435.38,685.20 1436.68,685.14 1437.96,685.05 C1439.25,684.95 1440.53,684.83 1441.79,684.67 C1443.06,684.50 1444.31,684.31 1445.54,684.07 C1446.78,683.84 1448.00,683.56 1449.20,683.25 C1450.41,682.93 1451.59,682.58 1452.75,682.18 C1453.92,681.78 1455.06,681.34 1456.18,680.84 C1457.30,680.35 1458.40,679.82 1459.47,679.23 C1460.54,678.64 1461.58,678.00 1462.60,677.32 C1463.62,676.63 1464.62,675.90 1465.59,675.13 C1466.56,674.35 1467.51,673.53 1468.43,672.68 C1469.36,671.82 1470.26,670.93 1471.14,670.00 C1472.02,669.07 1472.88,668.10 1473.71,667.10 C1474.55,666.11 1475.37,665.08 1476.17,664.02 C1476.97,662.97 1477.75,661.89 1478.51,660.78 C1479.28,659.68 1480.02,658.55 1480.75,657.40 C1481.48,656.25 1482.19,655.08 1482.88,653.90 C1483.58,652.71 1484.26,651.51 1484.92,650.30 C1485.59,649.09 1486.24,647.87 1486.88,646.64 C1487.52,645.41 1488.15,644.17 1488.76,642.93 C1489.38,641.68 1489.98,640.44 1490.57,639.19 C1491.16,637.94 1491.74,636.69 1492.31,635.45 C1492.89,634.20 1493.45,632.95 1494.00,631.70 C1494.55,630.45 1495.09,629.20 1495.62,627.95 C1496.15,626.70 1496.68,625.45 1497.19,624.20 C1497.70,622.94 1498.21,621.69 1498.71,620.44 C1499.20,619.19 1499.69,617.93 1500.17,616.68 C1500.65,615.42 1501.13,614.17 1501.59,612.91 C1502.06,611.65 1502.51,610.40 1502.96,609.14 C1503.42,607.88 1503.86,606.62 1504.30,605.36 C1504.73,604.10 1505.16,602.84 1505.59,601.58 C1506.01,600.32 1506.43,599.06 1506.85,597.79 C1507.26,596.53 1507.67,595.27 1508.07,594.00 C1508.47,592.74 1508.87,591.47 1509.26,590.20 C1509.66,588.94 1510.04,587.67 1510.43,586.40 C1510.81,585.13 1511.19,583.86 1511.57,582.59 C1511.94,581.32 1512.32,580.04 1512.68,578.77 C1513.05,577.50 1513.42,576.22 1513.78,574.95 C1514.15,573.67 1514.51,572.39 1514.86,571.12 C1515.22,569.84 1515.58,568.56 1515.93,567.28 C1516.29,566.00 1516.64,564.72 1516.99,563.43 C1517.34,562.15 1517.69,560.87 1518.03,559.58 C1518.38,558.29 1518.73,557.01 1519.08,555.72 C1519.42,554.43 1519.77,553.14 1520.12,551.85 C1520.46,550.56 1520.81,549.27 1521.15,547.98 C1521.50,546.68 1521.85,545.39 1522.20,544.09 C1522.55,542.80 1522.90,541.50 1523.25,540.20 C1523.60,538.91 1523.95,537.61 1524.31,536.31 C1524.67,535.02 1525.03,533.72 1525.39,532.42 C1525.76,531.12 1526.13,529.83 1526.50,528.53 C1526.87,527.23 1527.25,525.94 1527.63,524.64 C1528.01,523.35 1528.40,522.05 1528.79,520.76 C1529.18,519.47 1529.58,518.17 1529.99,516.88 C1530.40,515.59 1530.81,514.30 1531.23,513.01 C1531.65,511.73 1532.08,510.44 1532.51,509.16 C1532.95,507.88 1533.40,506.59 1533.85,505.31 C1534.30,504.04 1534.77,502.76 1535.24,501.49 C1535.71,500.21 1536.19,498.94 1536.69,497.68 C1537.18,496.41 1537.69,495.14 1538.20,493.88 C1538.72,492.62 1539.24,491.36 1539.78,490.11 C1540.32,488.86 1540.87,487.61 1541.44,486.36 C1542.00,485.12 1542.58,483.88 1543.17,482.64 C1543.76,481.40 1544.37,480.17 1544.99,478.94 C1545.60,477.71 1546.24,476.49 1546.89,475.27 C1547.54,474.06 1548.20,472.84 1548.88,471.64 C1549.56,470.43 1550.26,469.23 1550.97,468.05 C1551.69,466.86 1552.41,465.68 1553.16,464.53 C1553.91,463.37 1554.67,462.23 1555.46,461.11 C1556.24,460.00 1557.04,458.90 1557.86,457.84 C1558.68,456.77 1559.52,455.73 1560.38,454.73 C1561.23,453.72 1562.11,452.74 1563.01,451.81 C1563.91,450.88 1564.82,449.98 1565.76,449.13 C1566.70,448.28 1567.66,447.46 1568.64,446.70 C1569.62,445.94 1570.62,445.23 1571.65,444.57 C1572.67,443.91 1573.72,443.30 1574.78,442.74 C1575.85,442.18 1576.94,441.67 1578.04,441.21 C1579.15,440.75 1580.27,440.34 1581.41,439.97 C1582.56,439.60 1583.72,439.28 1584.89,439.00 C1586.06,438.72 1587.26,438.48 1588.46,438.29 C1589.67,438.09 1590.89,437.93 1592.12,437.82 C1593.35,437.70 1594.60,437.62 1595.85,437.58 C1597.11,437.53 1598.38,437.53 1599.66,437.55 C1600.93,437.58 1602.22,437.64 1603.52,437.73 C1604.82,437.82 1606.12,437.94 1607.44,438.09 C1608.75,438.24 1610.07,438.42 1611.39,438.63 C1612.72,438.84 1614.05,439.07 1615.38,439.33 C1616.72,439.58 1618.06,439.87 1619.40,440.17 C1620.74,440.47 1622.08,440.80 1623.43,441.15 C1624.77,441.49 1626.12,441.86 1627.47,442.24 C1628.81,442.62 1630.16,443.02 1631.50,443.44 C1632.85,443.85 1634.19,444.28 1635.53,444.73 C1636.86,445.17 1638.20,445.62 1639.53,446.09 C1640.86,446.55 1642.19,447.03 1643.51,447.51 C1644.83,447.99 1646.15,448.48 1647.46,448.96 C1648.77,449.44 1650.08,449.92 1651.38,450.39 C1652.69,450.85 1653.99,451.32 1655.29,451.75 C1656.59,452.19 1656.97,452.27 1659.17,453.02 C1661.38,453.77 1664.03,455.84 1668.50,456.25 C1672.97,456.66 1681.42,455.92 1686.00,455.50 C1690.58,455.08 1694.33,454.04 1696.00,453.75" stroke="#00ff00" stroke-width="4.6" fill="none" stroke-linejoin="round" stroke-linecap="butt"/>
<path d="M140.00,482.00 C142.50,482.29 150.42,483.46 155.00,483.75 C159.58,484.04 163.33,483.33 167.50,483.75 C171.67,484.17 173.75,485.21 180.00,486.25 C186.25,487.29 196.67,488.96 205.00,490.00 C213.33,491.04 221.67,491.67 230.00,492.50 C238.33,493.33 246.67,494.25 255.00,495.00 C263.33,495.75 271.67,496.58 280.00,497.00 C288.33,497.42 296.67,497.29 305.00,497.50 C313.33,497.71 321.67,497.92 330.00,498.25 C338.33,498.58 346.67,499.00 355.00,499.50 C363.33,500.00 371.67,500.83 380.00,501.25 C388.33,501.67 396.67,501.79 405.00,502.00 C413.33,502.21 421.67,502.08 430.00,502.50 C438.33,502.92 446.67,503.88 455.00,504.50 C463.33,505.12 471.67,505.96 480.00,506.25 C488.33,506.54 496.67,505.96 505.00,506.25 C513.33,506.54 521.67,507.38 530.00,508.00 C538.33,508.62 545.00,509.75 555.00,510.00 C565.00,510.25 580.83,509.29 590.00,509.50 C599.17,509.71 602.50,510.54 610.00,511.25 C617.50,511.96 626.67,513.04 635.00,513.75 C643.33,514.46 651.67,514.88 660.00,515.50 C668.33,516.12 676.67,516.88 685.00,517.50 C693.33,518.12 701.67,518.71 710.00,519.25 C718.33,519.79 726.67,520.12 735.00,520.75 C743.33,521.38 751.67,522.38 760.00,523.00 C768.33,523.62 776.67,523.96 785.00,524.50 C793.33,525.04 801.67,525.67 810.00,526.25 C818.33,526.83 826.67,527.38 835.00,528.00 C843.33,528.62 851.67,529.38 860.00,530.00 C868.33,530.62 876.67,531.12 885.00,531.75 C893.33,532.38 901.67,532.88 910.00,533.75 C918.33,534.62 926.67,536.08 935.00,537.00 C943.33,537.92 952.92,538.55 960.00,539.30 C967.08,540.05 972.05,541.32 977.50,541.50 C982.95,541.68 988.35,539.68 992.70,540.40 C997.05,541.12 999.60,543.43 1003.60,545.80 C1007.60,548.17 1013.05,550.60 1016.70,554.60 C1020.35,558.60 1022.58,564.35 1025.50,569.80 C1028.42,575.25 1031.65,582.75 1034.20,587.30 C1036.75,591.85 1038.62,592.73 1040.80,597.10 C1042.98,601.47 1045.13,607.50 1047.30,613.50 C1049.47,619.50 1051.62,626.92 1053.80,633.10 C1055.98,639.28 1058.22,646.30 1060.40,650.60 C1062.58,654.90 1064.35,657.82 1066.90,658.90 C1069.45,659.98 1073.15,657.47 1075.70,657.10 C1078.25,656.73 1080.38,658.15 1082.20,656.70 C1084.02,655.25 1084.78,653.42 1086.60,648.40 C1088.42,643.38 1090.92,633.87 1093.10,626.60 C1095.28,619.33 1097.52,612.43 1099.70,604.80 C1101.88,597.17 1103.65,586.98 1106.20,580.80 C1108.75,574.62 1111.72,572.25 1115.00,567.70 C1118.28,563.15 1121.90,555.87 1125.90,553.50 C1129.90,551.13 1135.37,552.88 1139.00,553.50 C1142.63,554.12 1143.70,556.37 1147.70,557.20 C1151.70,558.03 1159.28,557.73 1163.00,558.50 C1166.72,559.27 1167.17,559.55 1170.00,561.80 C1172.83,564.05 1177.08,568.72 1180.00,572.00 C1182.92,575.28 1183.72,575.55 1187.50,581.50 C1191.28,587.45 1198.35,601.52 1202.70,607.70 C1207.05,613.88 1209.60,613.88 1213.60,618.60 C1217.60,623.32 1221.60,630.92 1226.70,636.00 C1231.80,641.08 1239.10,644.00 1244.20,649.10 C1249.30,654.20 1252.93,661.50 1257.30,666.60 C1261.67,671.70 1265.30,673.15 1270.40,679.70 C1275.50,686.25 1281.31,697.08 1287.90,705.90 C1294.49,714.72 1305.76,727.69 1309.92,732.64 C1314.09,737.59 1311.88,734.63 1312.87,735.60 C1313.86,736.57 1314.85,737.53 1315.86,738.48 C1316.86,739.42 1317.87,740.35 1318.89,741.27 C1319.91,742.18 1320.93,743.08 1321.97,743.97 C1323.00,744.85 1324.04,745.72 1325.08,746.56 C1326.13,747.41 1327.18,748.24 1328.24,749.05 C1329.30,749.86 1330.36,750.66 1331.43,751.43 C1332.50,752.20 1333.58,752.95 1334.66,753.68 C1335.74,754.41 1336.83,755.12 1337.92,755.81 C1339.01,756.49 1340.10,757.16 1341.21,757.82 C1342.31,758.47 1343.41,759.11 1344.52,759.74 C1345.63,760.37 1346.75,760.98 1347.87,761.59 C1348.98,762.19 1350.11,762.79 1351.23,763.38 C1352.36,763.97 1353.49,764.55 1354.62,765.13 C1355.76,765.72 1356.89,766.29 1358.03,766.87 C1359.17,767.45 1360.31,768.03 1361.46,768.61 C1362.60,769.19 1363.75,769.78 1364.90,770.37 C1366.05,770.97 1367.20,771.56 1368.36,772.17 C1369.51,772.78 1370.67,773.40 1371.83,774.03 C1372.98,774.66 1374.14,775.31 1375.30,775.97 C1376.46,776.63 1377.63,777.30 1378.79,778.00 C1379.95,778.70 1381.12,779.41 1382.28,780.15 C1383.44,780.89 1384.61,781.65 1385.77,782.43 C1386.94,783.22 1388.10,784.03 1389.27,784.87 C1390.43,785.71 1391.60,786.58 1392.76,787.47 C1393.93,788.37 1395.09,789.29 1396.25,790.24 C1397.42,791.18 1398.58,792.15 1399.74,793.14 C1400.90,794.12 1402.06,795.14 1403.22,796.15 C1404.38,797.16 1405.53,798.21 1406.69,799.21 C1407.84,800.22 1408.99,801.24 1410.14,802.20 C1411.29,803.15 1412.44,804.10 1413.58,804.95 C1414.73,805.80 1415.87,806.62 1417.00,807.32 C1418.14,808.02 1419.28,808.65 1420.41,809.15 C1421.54,809.64 1422.67,810.05 1423.79,810.29 C1424.91,810.53 1426.03,810.64 1427.15,810.59 C1428.26,810.54 1429.37,810.32 1430.47,809.99 C1431.56,809.67 1432.65,809.20 1433.72,808.66 C1434.79,808.13 1435.85,807.48 1436.88,806.80 C1437.91,806.12 1438.92,805.37 1439.90,804.61 C1440.89,803.85 1441.84,803.05 1442.78,802.23 C1443.71,801.41 1444.61,800.57 1445.50,799.70 C1446.38,798.83 1447.24,797.93 1448.08,797.01 C1448.93,796.09 1449.74,795.15 1450.54,794.18 C1451.34,793.22 1452.12,792.23 1452.88,791.22 C1453.64,790.21 1454.38,789.19 1455.11,788.14 C1455.84,787.09 1456.55,786.02 1457.24,784.94 C1457.94,783.86 1458.62,782.76 1459.28,781.64 C1459.95,780.52 1460.60,779.39 1461.24,778.24 C1461.89,777.10 1462.51,775.93 1463.13,774.76 C1463.75,773.59 1464.36,772.40 1464.96,771.20 C1465.56,770.00 1466.15,768.79 1466.74,767.57 C1467.32,766.36 1467.90,765.13 1468.47,763.89 C1469.04,762.65 1469.61,761.41 1470.17,760.16 C1470.74,758.91 1471.29,757.65 1471.85,756.39 C1472.41,755.12 1472.96,753.85 1473.52,752.58 C1474.07,751.31 1474.62,750.04 1475.18,748.76 C1475.73,747.48 1476.29,746.21 1476.84,744.93 C1477.40,743.65 1477.96,742.37 1478.52,741.09 C1479.09,739.81 1479.66,738.54 1480.23,737.26 C1480.80,735.99 1481.38,734.72 1481.97,733.45 C1482.55,732.18 1483.15,730.92 1483.74,729.66 C1484.34,728.40 1484.94,727.14 1485.56,725.89 C1486.17,724.63 1486.78,723.38 1487.40,722.14 C1488.03,720.90 1488.66,719.66 1489.29,718.42 C1489.93,717.19 1490.57,715.96 1491.22,714.73 C1491.87,713.51 1492.53,712.29 1493.19,711.08 C1493.86,709.86 1494.53,708.65 1495.20,707.45 C1495.88,706.25 1496.57,705.06 1497.26,703.87 C1497.95,702.68 1498.65,701.50 1499.36,700.32 C1500.06,699.15 1500.78,697.98 1501.50,696.82 C1502.22,695.66 1502.95,694.50 1503.69,693.36 C1504.43,692.21 1505.17,691.07 1505.93,689.94 C1506.68,688.81 1507.44,687.69 1508.21,686.58 C1508.98,685.46 1509.76,684.36 1510.54,683.26 C1511.33,682.17 1512.12,681.08 1512.93,680.00 C1513.73,678.93 1514.54,677.86 1515.36,676.80 C1516.18,675.74 1517.01,674.70 1517.84,673.66 C1518.68,672.62 1519.53,671.59 1520.38,670.57 C1521.24,669.56 1522.10,668.55 1522.97,667.56 C1523.85,666.56 1524.73,665.57 1525.62,664.60 C1526.51,663.63 1527.41,662.67 1528.32,661.72 C1529.23,660.77 1530.15,659.83 1531.08,658.90 C1532.01,657.98 1532.95,657.06 1533.90,656.16 C1534.84,655.26 1535.80,654.37 1536.77,653.50 C1537.74,652.62 1538.72,651.76 1539.71,650.91 C1540.69,650.06 1541.69,649.23 1542.70,648.41 C1543.71,647.59 1544.73,646.78 1545.76,645.98 C1546.79,645.19 1547.83,644.41 1548.88,643.65 C1549.93,642.88 1550.99,642.13 1552.06,641.40 C1553.13,640.66 1554.21,639.94 1555.31,639.24 C1556.40,638.54 1557.50,637.85 1558.62,637.17 C1559.73,636.50 1560.86,635.84 1562.00,635.20 C1563.13,634.56 1564.28,633.94 1565.44,633.33 C1566.60,632.72 1567.78,632.13 1568.96,631.56 C1570.14,630.98 1571.34,630.43 1572.54,629.89 C1573.75,629.35 1574.97,628.83 1576.20,628.32 C1577.42,627.82 1578.66,627.33 1579.91,626.86 C1581.16,626.38 1582.42,625.93 1583.69,625.49 C1584.96,625.05 1586.24,624.62 1587.53,624.21 C1588.81,623.81 1590.11,623.41 1591.41,623.03 C1592.71,622.65 1594.03,622.29 1595.34,621.94 C1596.66,621.59 1597.99,621.26 1599.32,620.94 C1600.65,620.62 1601.99,620.31 1603.34,620.02 C1604.68,619.72 1606.03,619.44 1607.39,619.17 C1608.74,618.91 1610.10,618.65 1611.47,618.41 C1612.83,618.17 1614.20,617.94 1615.57,617.72 C1616.94,617.51 1618.32,617.30 1619.70,617.11 C1621.08,616.91 1622.46,616.73 1623.84,616.56 C1625.23,616.39 1626.61,616.23 1628.00,616.08 C1629.39,615.93 1630.78,615.79 1632.17,615.66 C1633.56,615.53 1631.53,615.38 1636.34,615.30 C1641.14,615.23 1651.06,615.22 1661.00,615.20 C1670.94,615.18 1690.17,615.20 1696.00,615.20" stroke="#0000ff" stroke-width="4.6" fill="none" stroke-linejoin="round" stroke-linecap="butt"/>
<path d="M140.00,627.50 C141.67,628.12 145.42,630.50 150.00,631.25 C154.58,632.00 162.50,631.38 167.50,632.00 C172.50,632.62 173.75,633.04 180.00,635.00 C186.25,636.96 196.67,641.04 205.00,643.75 C213.33,646.46 221.67,649.04 230.00,651.25 C238.33,653.46 246.67,655.21 255.00,657.00 C263.33,658.79 271.67,660.75 280.00,662.00 C288.33,663.25 296.67,663.88 305.00,664.50 C313.33,665.12 321.67,665.17 330.00,665.75 C338.33,666.33 346.67,667.08 355.00,668.00 C363.33,668.92 371.67,670.29 380.00,671.25 C388.33,672.21 396.67,673.12 405.00,673.75 C413.33,674.38 421.67,674.17 430.00,675.00 C438.33,675.83 446.67,677.50 455.00,678.75 C463.33,680.00 471.67,681.46 480.00,682.50 C488.33,683.54 496.67,683.96 505.00,685.00 C513.33,686.04 521.67,687.50 530.00,688.75 C538.33,690.00 545.83,691.54 555.00,692.50 C564.17,693.46 575.83,693.75 585.00,694.50 C594.17,695.25 601.67,696.29 610.00,697.00 C618.33,697.71 626.67,698.25 635.00,698.75 C643.33,699.25 651.67,699.58 660.00,700.00 C668.33,700.42 676.67,700.75 685.00,701.25 C693.33,701.75 701.67,702.38 710.00,703.00 C718.33,703.62 726.67,704.33 735.00,705.00 C743.33,705.67 751.67,706.58 760.00,707.00 C768.33,707.42 776.67,707.21 785.00,707.50 C793.33,707.79 801.67,708.33 810.00,708.75 C818.33,709.17 826.60,709.51 835.00,710.00 C843.40,710.49 855.48,711.35 860.37,711.67 C865.26,711.99 863.01,711.83 864.33,711.91 C865.65,712.00 866.96,712.09 868.28,712.18 C869.59,712.27 870.91,712.37 872.22,712.47 C873.53,712.56 874.84,712.67 876.15,712.78 C877.46,712.89 878.76,713.00 880.07,713.12 C881.38,713.24 882.68,713.36 883.98,713.49 C885.29,713.62 886.59,713.76 887.89,713.90 C889.19,714.05 890.49,714.19 891.79,714.35 C893.08,714.51 894.38,714.67 895.68,714.84 C896.97,715.01 898.26,715.19 899.56,715.38 C900.85,715.57 902.14,715.76 903.43,715.97 C904.72,716.17 906.01,716.39 907.30,716.61 C908.58,716.83 909.87,717.06 911.15,717.31 C912.44,717.55 913.72,717.80 915.01,718.06 C916.29,718.32 917.57,718.59 918.85,718.87 C920.13,719.15 921.41,719.43 922.69,719.73 C923.97,720.03 925.24,720.33 926.52,720.65 C927.79,720.97 929.07,721.29 930.34,721.62 C931.62,721.96 932.89,722.30 934.16,722.65 C935.43,723.00 936.70,723.36 937.97,723.73 C939.24,724.10 940.51,724.48 941.78,724.86 C943.05,725.25 944.31,725.64 945.58,726.05 C946.84,726.45 948.11,726.86 949.37,727.28 C950.64,727.70 951.90,728.13 953.16,728.57 C954.42,729.01 955.68,729.45 956.94,729.91 C958.20,730.36 959.46,730.82 960.72,731.29 C961.98,731.76 963.24,732.24 964.49,732.73 C965.75,733.22 967.01,733.71 968.26,734.21 C969.52,734.72 970.77,735.23 972.02,735.75 C973.28,736.27 974.53,736.79 975.78,737.33 C977.04,737.86 978.29,738.40 979.54,738.95 C980.79,739.49 982.04,740.05 983.29,740.61 C984.54,741.17 985.78,741.73 987.03,742.30 C988.28,742.87 989.53,743.44 990.77,744.02 C992.02,744.60 993.27,745.18 994.51,745.77 C995.76,746.35 997.00,746.94 998.25,747.53 C999.49,748.12 1000.73,748.71 1001.98,749.31 C1003.22,749.90 1004.46,750.50 1005.70,751.09 C1006.95,751.69 1008.19,752.29 1009.43,752.89 C1010.67,753.49 1011.91,754.08 1013.15,754.68 C1014.39,755.28 1015.63,755.88 1016.87,756.47 C1018.11,757.07 1019.35,757.66 1020.59,758.25 C1021.82,758.84 1023.06,759.44 1024.30,760.02 C1025.54,760.61 1026.77,761.19 1028.01,761.77 C1029.25,762.35 1030.48,762.93 1031.72,763.50 C1032.95,764.07 1034.19,764.64 1035.43,765.20 C1036.66,765.76 1037.90,766.32 1039.13,766.87 C1040.37,767.42 1041.60,767.96 1042.83,768.50 C1044.07,769.04 1045.30,769.58 1046.54,770.10 C1047.77,770.63 1049.00,771.15 1050.24,771.67 C1051.47,772.19 1052.70,772.70 1053.94,773.20 C1055.17,773.71 1056.40,774.21 1057.64,774.70 C1058.87,775.20 1060.10,775.68 1061.33,776.17 C1062.57,776.65 1063.80,777.13 1065.03,777.60 C1066.26,778.07 1067.49,778.54 1068.73,779.00 C1069.96,779.46 1071.19,779.91 1072.42,780.36 C1073.66,780.81 1074.89,781.26 1076.12,781.70 C1077.35,782.13 1078.58,782.57 1079.81,783.00 C1081.05,783.42 1082.28,783.85 1083.51,784.26 C1084.74,784.68 1085.98,785.09 1087.21,785.50 C1088.44,785.90 1089.67,786.30 1090.90,786.70 C1092.14,787.09 1093.37,787.48 1094.60,787.87 C1095.83,788.25 1097.07,788.63 1098.30,789.01 C1099.53,789.39 1100.77,789.76 1102.00,790.13 C1103.23,790.49 1104.47,790.86 1105.70,791.22 C1106.93,791.58 1108.17,791.94 1109.40,792.30 C1110.63,792.65 1111.87,793.01 1113.10,793.36 C1114.34,793.71 1115.57,794.06 1116.81,794.41 C1118.04,794.76 1119.28,795.11 1120.51,795.46 C1121.75,795.81 1122.99,796.15 1124.22,796.50 C1125.46,796.85 1126.70,797.20 1127.93,797.55 C1129.17,797.90 1130.41,798.25 1131.64,798.60 C1132.88,798.96 1134.12,799.31 1135.36,799.66 C1136.60,800.02 1137.84,800.38 1139.08,800.74 C1140.32,801.10 1141.56,801.47 1142.80,801.83 C1144.04,802.20 1145.28,802.57 1146.52,802.95 C1147.76,803.32 1149.00,803.70 1150.25,804.09 C1151.49,804.47 1152.73,804.86 1153.98,805.25 C1155.22,805.65 1156.46,806.05 1157.71,806.46 C1158.95,806.86 1160.20,807.27 1161.44,807.70 C1162.69,808.12 1163.94,808.55 1165.18,808.98 C1166.43,809.42 1167.68,809.87 1168.93,810.33 C1170.18,810.79 1171.43,811.26 1172.68,811.74 C1173.93,812.22 1175.18,812.72 1176.43,813.23 C1177.68,813.74 1178.93,814.26 1180.19,814.79 C1181.44,815.33 1182.69,815.88 1183.95,816.44 C1185.20,817.00 1186.46,817.57 1187.71,818.14 C1188.97,818.72 1190.22,819.31 1191.48,819.89 C1192.74,820.48 1194.00,821.08 1195.26,821.67 C1196.52,822.26 1197.78,822.86 1199.04,823.46 C1200.30,824.05 1201.56,824.65 1202.82,825.23 C1204.09,825.82 1205.35,826.41 1206.62,826.99 C1207.88,827.57 1209.15,828.14 1210.41,828.71 C1211.68,829.27 1212.95,829.83 1214.22,830.38 C1215.48,830.93 1216.75,831.47 1218.02,832.00 C1219.29,832.53 1220.57,833.06 1221.84,833.57 C1223.11,834.09 1224.38,834.60 1225.66,835.10 C1226.93,835.61 1228.21,836.10 1229.48,836.59 C1230.76,837.07 1232.03,837.55 1233.31,838.03 C1234.59,838.50 1235.87,838.96 1237.15,839.42 C1238.43,839.88 1239.71,840.33 1240.99,840.77 C1242.27,841.21 1243.55,841.65 1244.83,842.08 C1246.11,842.50 1247.40,842.92 1248.68,843.34 C1249.96,843.75 1251.25,844.16 1252.53,844.56 C1253.82,844.96 1255.11,845.35 1256.39,845.74 C1257.68,846.12 1258.97,846.50 1260.26,846.87 C1261.55,847.25 1262.83,847.61 1264.12,847.97 C1265.41,848.33 1266.71,848.68 1268.00,849.02 C1269.29,849.37 1270.58,849.71 1271.87,850.04 C1273.17,850.37 1274.46,850.70 1275.75,851.01 C1277.05,851.33 1278.34,851.64 1279.64,851.95 C1280.93,852.26 1282.23,852.55 1283.53,852.85 C1284.82,853.14 1286.12,853.43 1287.42,853.71 C1288.72,853.99 1290.02,854.26 1291.31,854.53 C1292.61,854.80 1293.91,855.06 1295.21,855.31 C1296.51,855.57 1297.82,855.82 1299.12,856.06 C1300.42,856.30 1301.72,856.54 1303.02,856.77 C1304.33,857.00 1305.63,857.23 1306.93,857.45 C1308.24,857.67 1309.54,857.88 1310.85,858.09 C1312.15,858.30 1313.46,858.50 1314.76,858.70 C1316.07,858.89 1317.37,859.08 1318.68,859.27 C1319.99,859.45 1321.30,859.63 1322.60,859.81 C1323.91,859.98 1325.22,860.15 1326.53,860.31 C1327.84,860.48 1329.15,860.63 1330.46,860.79 C1331.77,860.94 1333.08,861.09 1334.39,861.23 C1335.70,861.37 1337.01,861.51 1338.32,861.64 C1339.63,861.77 1340.94,861.90 1342.25,862.02 C1343.57,862.14 1344.88,862.25 1346.19,862.36 C1347.50,862.48 1348.82,862.58 1350.13,862.68 C1351.44,862.78 1352.76,862.88 1354.07,862.97 C1355.39,863.06 1356.70,863.15 1358.02,863.23 C1359.33,863.31 1360.65,863.39 1361.96,863.46 C1363.28,863.53 1364.59,863.60 1365.91,863.66 C1367.23,863.73 1368.54,863.79 1369.86,863.84 C1371.18,863.89 1372.49,863.94 1373.81,863.99 C1375.13,864.03 1376.45,864.07 1377.76,864.11 C1379.08,864.14 1380.40,864.18 1381.72,864.20 C1383.04,864.23 1384.36,864.26 1385.67,864.27 C1386.99,864.29 1388.31,864.31 1389.63,864.32 C1390.95,864.33 1392.27,864.34 1393.59,864.34 C1394.91,864.34 1396.23,864.34 1397.55,864.34 C1398.87,864.33 1400.19,864.32 1401.51,864.31 C1402.83,864.29 1404.15,864.28 1405.47,864.25 C1406.79,864.23 1408.11,864.21 1409.43,864.18 C1410.75,864.15 1412.07,864.11 1413.39,864.07 C1414.71,864.04 1416.04,863.99 1417.36,863.95 C1418.68,863.90 1420.00,863.85 1421.32,863.79 C1422.64,863.74 1423.96,863.68 1425.28,863.62 C1426.60,863.56 1427.93,863.49 1429.25,863.42 C1430.57,863.35 1431.89,863.27 1433.21,863.19 C1434.53,863.11 1435.85,863.03 1437.18,862.94 C1438.50,862.85 1439.82,862.76 1441.14,862.66 C1442.46,862.57 1443.78,862.47 1445.10,862.36 C1446.43,862.26 1447.75,862.15 1449.07,862.04 C1450.39,861.92 1451.71,861.81 1453.03,861.68 C1454.35,861.56 1455.67,861.44 1457.00,861.31 C1458.32,861.18 1459.64,861.04 1460.96,860.91 C1462.28,860.77 1463.60,860.63 1464.92,860.48 C1466.24,860.33 1467.56,860.18 1468.88,860.03 C1470.20,859.87 1471.52,859.71 1472.84,859.55 C1474.16,859.39 1475.48,859.22 1476.80,859.05 C1478.12,858.88 1479.44,858.70 1480.76,858.52 C1482.08,858.34 1483.40,858.16 1484.72,857.97 C1486.04,857.78 1487.36,857.58 1488.67,857.39 C1489.99,857.19 1491.31,856.99 1492.63,856.78 C1493.95,856.58 1495.27,856.37 1496.58,856.15 C1497.90,855.94 1499.22,855.72 1500.54,855.50 C1501.85,855.28 1503.17,855.05 1504.49,854.82 C1505.80,854.59 1507.12,854.35 1508.43,854.12 C1509.75,853.88 1511.07,853.64 1512.38,853.39 C1513.70,853.15 1515.01,852.90 1516.33,852.66 C1517.64,852.41 1518.96,852.16 1520.27,851.90 C1521.58,851.65 1522.90,851.40 1524.21,851.14 C1525.52,850.89 1526.84,850.63 1528.15,850.38 C1529.46,850.12 1530.78,849.86 1532.09,849.60 C1533.40,849.35 1534.71,849.09 1536.02,848.83 C1537.33,848.57 1538.64,848.32 1539.95,848.06 C1541.26,847.81 1542.57,847.55 1543.88,847.30 C1545.19,847.04 1546.50,846.79 1547.81,846.54 C1549.12,846.29 1550.43,846.04 1551.73,845.80 C1553.04,845.55 1554.35,845.31 1555.65,845.07 C1556.96,844.83 1558.27,844.59 1559.57,844.36 C1560.88,844.12 1562.18,843.89 1563.49,843.66 C1564.79,843.44 1566.10,843.21 1567.40,842.99 C1568.70,842.77 1570.01,842.55 1571.31,842.33 C1572.61,842.11 1573.91,841.88 1575.21,841.66 C1576.51,841.43 1577.81,841.21 1579.11,840.98 C1580.41,840.75 1581.71,840.51 1583.01,840.27 C1584.31,840.03 1585.61,839.78 1586.91,839.52 C1588.20,839.27 1589.50,839.01 1590.80,838.73 C1592.09,838.46 1593.39,838.17 1594.68,837.88 C1595.98,837.58 1597.27,837.28 1598.57,836.95 C1599.86,836.63 1601.15,836.30 1602.45,835.95 C1603.74,835.60 1605.03,835.24 1606.32,834.87 C1607.61,834.50 1608.90,834.11 1610.19,833.72 C1611.48,833.32 1612.77,832.92 1614.06,832.50 C1615.35,832.09 1616.63,831.66 1617.92,831.23 C1619.21,830.80 1620.49,830.36 1621.78,829.91 C1623.06,829.47 1624.35,829.01 1625.63,828.55 C1626.91,828.09 1628.19,827.63 1629.48,827.16 C1630.76,826.69 1632.04,826.22 1633.32,825.74 C1634.60,825.26 1635.88,824.78 1637.16,824.30 C1638.44,823.82 1639.71,823.34 1640.99,822.85 C1642.27,822.37 1643.54,821.88 1644.82,821.40 C1646.09,820.92 1647.37,820.43 1648.64,819.95 C1649.91,819.47 1651.19,818.99 1652.46,818.51 C1653.73,818.04 1655.00,817.56 1656.27,817.10 C1657.54,816.63 1658.81,816.16 1660.08,815.70 C1661.34,815.24 1662.61,814.79 1663.88,814.34 C1665.14,813.90 1666.41,813.46 1667.67,813.03 C1668.94,812.59 1666.76,813.06 1671.46,811.76 C1676.17,810.45 1691.83,806.29 1695.90,805.20" stroke="#008000" stroke-width="4.6" fill="none" stroke-linejoin="round" stroke-linecap="butt"/>
<path d="M140.00,785.75 C142.08,785.54 148.75,784.00 152.50,784.50 C156.25,785.00 157.92,787.21 162.50,788.75 C167.08,790.29 172.92,791.96 180.00,793.75 C187.08,795.54 196.67,797.71 205.00,799.50 C213.33,801.29 221.67,802.96 230.00,804.50 C238.33,806.04 246.67,807.42 255.00,808.75 C263.33,810.08 271.67,811.54 280.00,812.50 C288.33,813.46 296.67,813.88 305.00,814.50 C313.33,815.12 321.67,815.54 330.00,816.25 C338.33,816.96 346.67,817.92 355.00,818.75 C363.33,819.58 371.67,820.62 380.00,821.25 C388.33,821.88 396.67,822.00 405.00,822.50 C413.33,823.00 421.67,823.21 430.00,824.25 C438.33,825.29 446.67,827.71 455.00,828.75 C463.33,829.79 471.67,830.21 480.00,830.50 C488.33,830.79 496.67,830.08 505.00,830.50 C513.33,830.92 521.67,832.17 530.00,833.00 C538.33,833.83 545.00,835.17 555.00,835.50 C565.00,835.83 580.83,834.75 590.00,835.00 C599.17,835.25 602.50,836.38 610.00,837.00 C617.50,837.62 626.67,838.25 635.00,838.75 C643.33,839.25 651.67,839.67 660.00,840.00 C668.33,840.33 676.67,840.46 685.00,840.75 C693.33,841.04 701.67,841.38 710.00,841.75 C718.33,842.12 726.67,842.62 735.00,843.00 C743.33,843.38 751.67,843.67 760.00,844.00 C768.33,844.33 776.67,844.62 785.00,845.00 C793.33,845.38 801.67,845.75 810.00,846.25 C818.33,846.75 826.63,847.56 835.00,848.00 C843.37,848.44 855.37,848.69 860.25,848.90 C865.12,849.10 862.91,849.12 864.24,849.24 C865.57,849.36 866.90,849.49 868.23,849.61 C869.56,849.74 870.89,849.87 872.22,850.01 C873.55,850.14 874.88,850.28 876.20,850.42 C877.53,850.56 878.86,850.71 880.18,850.86 C881.51,851.01 882.83,851.16 884.16,851.32 C885.48,851.48 886.80,851.64 888.13,851.81 C889.45,851.98 890.77,852.15 892.09,852.32 C893.41,852.50 894.73,852.68 896.05,852.86 C897.37,853.05 898.69,853.24 900.00,853.43 C901.32,853.62 902.64,853.82 903.95,854.02 C905.27,854.22 906.58,854.43 907.90,854.64 C909.21,854.85 910.53,855.07 911.84,855.29 C913.15,855.51 914.46,855.73 915.77,855.96 C917.08,856.19 918.39,856.43 919.70,856.67 C921.01,856.90 922.32,857.15 923.62,857.40 C924.93,857.65 926.24,857.90 927.54,858.16 C928.85,858.42 930.15,858.68 931.45,858.95 C932.76,859.22 934.06,859.50 935.36,859.77 C936.66,860.05 937.96,860.34 939.26,860.63 C940.56,860.92 941.86,861.21 943.15,861.51 C944.45,861.81 945.75,862.12 947.04,862.43 C948.34,862.74 949.63,863.06 950.92,863.38 C952.22,863.70 953.51,864.03 954.80,864.36 C956.09,864.69 957.38,865.03 958.67,865.38 C959.96,865.72 961.25,866.07 962.53,866.42 C963.82,866.78 965.11,867.14 966.39,867.51 C967.68,867.88 968.96,868.25 970.24,868.63 C971.53,869.01 972.81,869.39 974.09,869.78 C975.37,870.17 976.65,870.57 977.93,870.97 C979.20,871.37 980.48,871.78 981.76,872.19 C983.03,872.61 984.31,873.03 985.58,873.46 C986.85,873.88 988.13,874.32 989.40,874.75 C990.67,875.19 991.94,875.64 993.21,876.09 C994.48,876.54 995.75,877.00 997.01,877.47 C998.28,877.93 999.55,878.40 1000.81,878.88 C1002.07,879.36 1003.34,879.84 1004.60,880.33 C1005.86,880.82 1007.12,881.32 1008.38,881.82 C1009.64,882.33 1010.90,882.84 1012.16,883.36 C1013.41,883.87 1014.67,884.40 1015.92,884.93 C1017.18,885.46 1018.43,886.00 1019.69,886.54 C1020.94,887.08 1022.19,887.63 1023.44,888.18 C1024.69,888.73 1025.94,889.28 1027.18,889.83 C1028.43,890.38 1029.68,890.94 1030.92,891.49 C1032.17,892.04 1033.41,892.60 1034.66,893.14 C1035.90,893.69 1037.14,894.24 1038.38,894.78 C1039.63,895.32 1040.87,895.86 1042.11,896.39 C1043.35,896.91 1044.58,897.44 1045.82,897.95 C1047.06,898.46 1048.30,898.97 1049.53,899.46 C1050.77,899.95 1052.00,900.44 1053.24,900.91 C1054.47,901.38 1055.71,901.84 1056.94,902.28 C1058.17,902.72 1059.40,903.15 1060.64,903.56 C1061.87,903.97 1063.10,904.37 1064.33,904.74 C1065.56,905.12 1066.79,905.48 1068.02,905.82 C1069.25,906.16 1070.48,906.49 1071.70,906.81 C1072.93,907.12 1074.16,907.43 1075.39,907.74 C1076.61,908.04 1077.84,908.34 1079.06,908.65 C1080.29,908.95 1081.52,909.26 1082.74,909.57 C1083.97,909.89 1085.19,910.21 1086.41,910.55 C1087.64,910.89 1088.86,911.24 1090.09,911.62 C1091.31,911.99 1092.53,912.38 1093.76,912.79 C1094.98,913.19 1096.20,913.62 1097.43,914.06 C1098.65,914.50 1099.87,914.95 1101.09,915.42 C1102.31,915.89 1103.54,916.38 1104.76,916.88 C1105.98,917.37 1107.20,917.89 1108.42,918.41 C1109.65,918.93 1110.87,919.47 1112.09,920.02 C1113.31,920.56 1114.53,921.12 1115.75,921.69 C1116.97,922.25 1118.20,922.83 1119.42,923.42 C1120.64,924.00 1121.86,924.60 1123.08,925.20 C1124.30,925.80 1125.53,926.41 1126.75,927.02 C1127.97,927.64 1129.19,928.26 1130.42,928.89 C1131.64,929.51 1132.86,930.15 1134.08,930.78 C1135.31,931.42 1136.53,932.06 1137.75,932.70 C1138.98,933.34 1140.20,933.99 1141.42,934.63 C1142.65,935.28 1143.87,935.93 1145.10,936.57 C1146.32,937.22 1147.55,937.87 1148.77,938.52 C1150.00,939.16 1151.22,939.81 1152.45,940.46 C1153.68,941.10 1154.90,941.74 1156.13,942.38 C1157.36,943.02 1158.59,943.66 1159.82,944.29 C1161.04,944.92 1162.27,945.55 1163.50,946.17 C1164.73,946.79 1165.96,947.41 1167.19,948.02 C1168.43,948.63 1169.66,949.23 1170.89,949.83 C1172.12,950.42 1173.36,951.01 1174.59,951.60 C1175.82,952.18 1177.06,952.76 1178.29,953.33 C1179.53,953.90 1180.76,954.46 1182.00,955.02 C1183.24,955.58 1184.47,956.13 1185.71,956.67 C1186.95,957.22 1188.19,957.75 1189.43,958.28 C1190.67,958.82 1191.91,959.34 1193.15,959.86 C1194.39,960.37 1195.63,960.88 1196.87,961.39 C1198.11,961.89 1199.35,962.38 1200.60,962.87 C1201.84,963.36 1203.09,963.84 1204.33,964.32 C1205.58,964.79 1206.82,965.26 1208.07,965.72 C1209.32,966.18 1210.56,966.63 1211.81,967.08 C1213.06,967.52 1214.31,967.96 1215.56,968.39 C1216.81,968.82 1218.06,969.24 1219.31,969.66 C1220.56,970.07 1221.81,970.48 1223.06,970.88 C1224.32,971.28 1225.57,971.68 1226.82,972.06 C1228.08,972.45 1229.33,972.82 1230.59,973.19 C1231.85,973.56 1233.10,973.92 1234.36,974.28 C1235.62,974.63 1236.88,974.98 1238.14,975.31 C1239.39,975.65 1240.65,975.98 1241.92,976.30 C1243.18,976.63 1244.44,976.94 1245.70,977.25 C1246.96,977.56 1248.23,977.86 1249.49,978.15 C1250.76,978.45 1252.02,978.74 1253.29,979.03 C1254.55,979.32 1255.82,979.60 1257.09,979.88 C1258.36,980.16 1259.62,980.44 1260.89,980.71 C1262.16,980.99 1263.43,981.26 1264.71,981.54 C1265.98,981.81 1267.25,982.08 1268.52,982.35 C1269.80,982.63 1271.07,982.90 1272.34,983.18 C1273.62,983.45 1274.90,983.73 1276.17,984.01 C1277.45,984.29 1278.73,984.57 1280.01,984.85 C1281.28,985.14 1282.56,985.43 1283.84,985.72 C1285.13,986.02 1286.41,986.32 1287.69,986.63 C1288.97,986.93 1290.26,987.25 1291.54,987.56 C1292.82,987.88 1294.11,988.21 1295.40,988.54 C1296.68,988.87 1297.97,989.21 1299.26,989.55 C1300.55,989.89 1301.84,990.24 1303.13,990.59 C1304.42,990.94 1305.71,991.29 1307.01,991.65 C1308.30,992.00 1309.60,992.37 1310.89,992.73 C1312.19,993.09 1313.49,993.46 1314.79,993.83 C1316.09,994.19 1317.39,994.57 1318.69,994.94 C1319.99,995.31 1321.30,995.68 1322.60,996.05 C1323.91,996.43 1325.22,996.80 1326.53,997.17 C1327.84,997.55 1329.15,997.92 1330.46,998.29 C1331.77,998.67 1333.09,999.04 1334.41,999.41 C1335.72,999.78 1337.04,1000.15 1338.36,1000.51 C1339.68,1000.88 1341.00,1001.24 1342.33,1001.61 C1343.65,1001.97 1344.98,1002.33 1346.31,1002.68 C1347.64,1003.03 1348.97,1003.39 1350.30,1003.73 C1351.64,1004.08 1352.97,1004.42 1354.31,1004.76 C1355.65,1005.09 1356.99,1005.43 1358.33,1005.75 C1359.67,1006.08 1361.02,1006.40 1362.37,1006.71 C1363.71,1007.03 1365.06,1007.33 1366.42,1007.63 C1367.77,1007.93 1369.13,1008.23 1370.48,1008.51 C1371.84,1008.80 1373.20,1009.07 1374.56,1009.34 C1375.93,1009.61 1377.29,1009.87 1378.66,1010.12 C1380.02,1010.37 1381.39,1010.61 1382.76,1010.84 C1384.13,1011.07 1385.50,1011.30 1386.87,1011.51 C1388.24,1011.72 1389.61,1011.92 1390.98,1012.10 C1392.35,1012.29 1393.72,1012.47 1395.09,1012.63 C1396.46,1012.80 1397.83,1012.95 1399.20,1013.09 C1400.57,1013.23 1401.93,1013.36 1403.30,1013.47 C1404.66,1013.58 1406.03,1013.68 1407.39,1013.77 C1408.75,1013.86 1410.11,1013.93 1411.46,1013.98 C1412.82,1014.04 1414.17,1014.08 1415.52,1014.11 C1416.87,1014.13 1418.22,1014.14 1419.56,1014.14 C1420.90,1014.13 1422.24,1014.11 1423.58,1014.07 C1424.91,1014.03 1426.24,1013.97 1427.57,1013.89 C1428.89,1013.82 1430.21,1013.73 1431.53,1013.62 C1432.84,1013.50 1434.15,1013.38 1435.45,1013.23 C1436.75,1013.08 1438.05,1012.91 1439.34,1012.72 C1440.63,1012.53 1441.91,1012.33 1443.19,1012.10 C1444.47,1011.87 1445.74,1011.62 1447.00,1011.35 C1448.26,1011.08 1449.51,1010.79 1450.76,1010.47 C1452.00,1010.16 1453.24,1009.83 1454.47,1009.47 C1455.70,1009.11 1456.92,1008.73 1458.13,1008.32 C1459.34,1007.92 1460.54,1007.49 1461.73,1007.04 C1462.92,1006.59 1464.10,1006.11 1465.27,1005.62 C1466.45,1005.12 1467.61,1004.60 1468.76,1004.06 C1469.91,1003.52 1471.05,1002.96 1472.18,1002.37 C1473.31,1001.79 1474.43,1001.18 1475.54,1000.55 C1476.65,999.92 1477.75,999.28 1478.84,998.61 C1479.92,997.94 1481.00,997.24 1482.06,996.53 C1483.13,995.82 1484.18,995.09 1485.22,994.34 C1486.26,993.59 1487.29,992.82 1488.31,992.03 C1489.32,991.23 1490.33,990.42 1491.32,989.59 C1492.31,988.76 1493.29,987.92 1494.26,987.05 C1495.23,986.18 1496.19,985.29 1497.14,984.39 C1498.08,983.49 1499.02,982.56 1499.94,981.62 C1500.87,980.68 1501.78,979.72 1502.69,978.75 C1503.59,977.77 1504.49,976.78 1505.37,975.77 C1506.26,974.76 1507.13,973.73 1508.00,972.69 C1508.87,971.65 1509.73,970.59 1510.58,969.52 C1511.43,968.45 1512.27,967.37 1513.10,966.27 C1513.94,965.17 1514.77,964.06 1515.59,962.95 C1516.41,961.83 1517.23,960.70 1518.04,959.56 C1518.85,958.43 1519.66,957.28 1520.46,956.13 C1521.27,954.97 1522.06,953.81 1522.86,952.65 C1523.65,951.49 1524.45,950.32 1525.24,949.14 C1526.03,947.97 1526.81,946.79 1527.60,945.61 C1528.39,944.43 1529.17,943.25 1529.96,942.07 C1530.74,940.89 1531.52,939.71 1532.31,938.53 C1533.09,937.35 1533.88,936.17 1534.66,935.00 C1535.45,933.82 1536.24,932.65 1537.03,931.49 C1537.82,930.32 1538.61,929.16 1539.41,928.00 C1540.20,926.85 1541.00,925.70 1541.80,924.56 C1542.61,923.42 1543.41,922.28 1544.22,921.16 C1545.04,920.04 1545.85,918.92 1546.68,917.82 C1547.50,916.72 1548.33,915.63 1549.17,914.56 C1550.00,913.48 1550.85,912.42 1551.70,911.37 C1552.55,910.32 1553.41,909.29 1554.27,908.27 C1555.14,907.25 1556.02,906.25 1556.90,905.27 C1557.79,904.29 1558.69,903.32 1559.59,902.38 C1560.50,901.44 1561.41,900.51 1562.34,899.61 C1563.27,898.71 1564.21,897.82 1565.16,896.97 C1566.12,896.11 1567.08,895.27 1568.06,894.47 C1569.04,893.66 1570.03,892.87 1571.03,892.11 C1572.04,891.36 1573.06,890.63 1574.10,889.92 C1575.13,889.22 1576.18,888.54 1577.24,887.89 C1578.31,887.24 1579.38,886.62 1580.47,886.02 C1581.57,885.42 1582.67,884.85 1583.79,884.30 C1584.90,883.75 1586.03,883.22 1587.17,882.72 C1588.31,882.22 1589.47,881.74 1590.63,881.29 C1591.80,880.83 1592.97,880.40 1594.16,879.99 C1595.35,879.58 1596.55,879.19 1597.75,878.82 C1598.96,878.45 1600.18,878.10 1601.41,877.77 C1602.64,877.44 1603.88,877.13 1605.12,876.84 C1606.37,876.55 1607.62,876.28 1608.89,876.03 C1610.15,875.78 1611.43,875.54 1612.71,875.32 C1613.99,875.10 1615.28,874.90 1616.57,874.72 C1617.87,874.53 1619.17,874.36 1620.48,874.21 C1621.79,874.05 1617.54,873.76 1624.42,873.79 C1631.31,873.82 1649.89,874.15 1661.80,874.40 C1673.71,874.65 1690.22,875.15 1695.90,875.30" stroke="#ff00ff" stroke-width="4.6" fill="none" stroke-linejoin="round" stroke-linecap="butt"/>
<path d="M140.00,1063.25 C141.25,1063.54 145.00,1064.62 147.50,1065.00 C150.00,1065.38 152.50,1065.00 155.00,1065.50 C157.50,1066.00 159.58,1066.62 162.50,1068.00 C165.42,1069.38 168.33,1071.67 172.50,1073.75 C176.67,1075.83 182.08,1078.42 187.50,1080.50 C192.92,1082.58 197.92,1084.33 205.00,1086.25 C212.08,1088.17 221.67,1090.33 230.00,1092.00 C238.33,1093.67 246.67,1094.92 255.00,1096.25 C263.33,1097.58 271.67,1098.88 280.00,1100.00 C288.33,1101.12 296.67,1102.08 305.00,1103.00 C313.33,1103.92 321.67,1104.67 330.00,1105.50 C338.33,1106.33 346.67,1107.25 355.00,1108.00 C363.33,1108.75 371.67,1109.33 380.00,1110.00 C388.33,1110.67 396.67,1111.38 405.00,1112.00 C413.33,1112.62 421.67,1113.12 430.00,1113.75 C438.33,1114.38 446.67,1115.12 455.00,1115.75 C463.33,1116.38 471.67,1116.92 480.00,1117.50 C488.33,1118.08 496.67,1118.71 505.00,1119.25 C513.33,1119.79 521.67,1120.21 530.00,1120.75 C538.33,1121.29 541.67,1121.79 555.00,1122.50 C568.33,1123.21 592.50,1124.08 610.00,1125.00 C627.50,1125.92 643.33,1126.96 660.00,1128.00 C676.67,1129.04 693.33,1130.21 710.00,1131.25 C726.67,1132.29 743.33,1133.29 760.00,1134.25 C776.67,1135.21 797.50,1136.38 810.00,1137.00 C822.50,1137.62 826.67,1137.83 835.00,1138.00 C843.33,1138.17 854.17,1138.03 860.00,1138.00 C865.83,1137.97 864.05,1138.27 870.00,1137.80 C875.95,1137.33 889.28,1136.27 895.70,1135.20 C902.12,1134.13 904.65,1131.62 908.50,1131.40 C912.35,1131.18 915.38,1133.27 918.80,1133.90 C922.22,1134.53 925.58,1135.40 929.00,1135.20 C932.42,1135.00 936.08,1133.02 939.30,1132.70 C942.52,1132.38 945.95,1134.27 948.30,1133.30 C950.65,1132.33 951.05,1130.53 953.40,1126.90 C955.75,1123.27 959.40,1116.63 962.40,1111.50 C965.40,1106.37 968.62,1101.02 971.40,1096.10 C974.18,1091.18 976.75,1086.28 979.10,1082.00 C981.45,1077.72 983.35,1073.83 985.50,1070.40 C987.65,1066.97 988.78,1064.28 992.00,1061.40 C995.22,1058.52 1000.53,1055.28 1004.80,1053.10 C1009.07,1050.92 1012.90,1049.80 1017.60,1048.30 C1022.30,1046.80 1027.65,1046.52 1033.00,1044.10 C1038.35,1041.68 1043.70,1037.33 1049.70,1033.80 C1055.70,1030.27 1062.28,1026.28 1069.00,1022.90 C1075.72,1019.52 1083.28,1016.50 1090.00,1013.50 C1096.72,1010.50 1102.88,1008.03 1109.30,1004.90 C1115.72,1001.77 1122.08,997.48 1128.50,994.70 C1134.92,991.92 1142.67,989.60 1147.80,988.20 C1152.93,986.80 1156.10,986.18 1159.30,986.30 C1162.50,986.42 1163.57,986.87 1167.00,988.90 C1170.43,990.93 1176.47,995.40 1179.90,998.50 C1183.33,1001.60 1185.03,1003.87 1187.60,1007.50 C1190.17,1011.13 1192.73,1016.67 1195.30,1020.30 C1197.87,1023.93 1200.22,1027.48 1203.00,1029.30 C1205.78,1031.12 1208.37,1030.92 1212.00,1031.20 C1215.63,1031.48 1220.53,1031.42 1224.80,1031.00 C1229.07,1030.58 1234.40,1028.98 1237.60,1028.70 C1240.80,1028.42 1241.85,1027.92 1244.00,1029.30 C1246.15,1030.68 1247.28,1032.28 1250.50,1037.00 C1253.72,1041.72 1259.03,1051.18 1263.30,1057.60 C1267.57,1064.02 1272.47,1070.70 1276.10,1075.50 C1279.73,1080.30 1282.32,1084.25 1285.10,1086.40 C1287.88,1088.55 1288.65,1088.28 1292.80,1088.40 C1296.95,1088.52 1305.12,1088.07 1310.00,1087.10 C1314.88,1086.13 1316.88,1083.57 1322.10,1082.60 C1327.32,1081.63 1333.82,1082.27 1341.30,1081.30 C1348.78,1080.33 1358.43,1079.05 1367.00,1076.80 C1375.57,1074.55 1384.13,1070.58 1392.70,1067.80 C1401.27,1065.02 1409.85,1062.13 1418.40,1060.10 C1426.95,1058.07 1436.52,1056.35 1444.00,1055.60 C1451.48,1054.85 1455.80,1055.27 1463.30,1055.60 C1470.80,1055.93 1482.88,1057.55 1489.00,1057.60 C1495.12,1057.65 1493.67,1057.53 1500.00,1055.90 C1506.33,1054.27 1518.02,1050.50 1527.00,1047.80 C1535.98,1045.10 1544.92,1041.95 1553.90,1039.70 C1562.88,1037.45 1571.92,1035.35 1580.90,1034.30 C1589.88,1033.25 1597.32,1033.70 1607.80,1033.40 C1618.28,1033.10 1629.12,1032.95 1643.80,1032.50 C1658.48,1032.05 1687.22,1031.00 1695.90,1030.70" stroke="#ff8000" stroke-width="4.6" fill="none" stroke-linejoin="round" stroke-linecap="butt"/>
<!-- Tg marks -->
<line x1="467.5" y1="128.75" x2="453.75" y2="172.5" stroke="#000" stroke-width="4"/>
<line x1="447" y1="206.25" x2="433.75" y2="251.25" stroke="#000" stroke-width="4"/>
<line x1="427.5" y1="285.75" x2="413.75" y2="330.5" stroke="#000" stroke-width="4"/>
<line x1="376.25" y1="479.5" x2="362" y2="523.75" stroke="#000" stroke-width="4"/>
<line x1="351.25" y1="642" x2="337.5" y2="686.25" stroke="#000" stroke-width="4"/>
<line x1="293.75" y1="795" x2="280" y2="839.5" stroke="#000" stroke-width="4"/>
<line x1="222" y1="1063.75" x2="208" y2="1108.75" stroke="#000" stroke-width="4"/>
<!-- left axis (upper, soft) -->
<rect x="137.5" y="61" width="4" height="1102" fill="#000"/>
<!-- ticks -->
<line x1="234.70" y1="1318" x2="234.70" y2="1344.3" stroke="#000" stroke-width="4"/>
<line x1="361.80" y1="1318" x2="361.80" y2="1344.3" stroke="#000" stroke-width="4"/>
<line x1="488.90" y1="1318" x2="488.90" y2="1344.3" stroke="#000" stroke-width="4"/>
<line x1="616.00" y1="1318" x2="616.00" y2="1344.3" stroke="#000" stroke-width="4"/>
<line x1="743.10" y1="1318" x2="743.10" y2="1344.3" stroke="#000" stroke-width="4"/>
<line x1="870.20" y1="1318" x2="870.20" y2="1344.3" stroke="#000" stroke-width="4"/>
<line x1="997.30" y1="1318" x2="997.30" y2="1344.3" stroke="#000" stroke-width="4"/>
<line x1="1124.40" y1="1318" x2="1124.40" y2="1344.3" stroke="#000" stroke-width="4"/>
<line x1="1251.50" y1="1318" x2="1251.50" y2="1344.3" stroke="#000" stroke-width="4"/>
<line x1="1378.60" y1="1318" x2="1378.60" y2="1344.3" stroke="#000" stroke-width="4"/>
<line x1="1505.70" y1="1318" x2="1505.70" y2="1344.3" stroke="#000" stroke-width="4"/>
<line x1="1632.80" y1="1318" x2="1632.80" y2="1344.3" stroke="#000" stroke-width="4"/>
<!-- labels -->
<text transform="translate(1546.72,143.10) scale(0.9377,1)" font-size="56">0.0073</text>
<text transform="translate(1547.45,259.05) scale(0.9485,1)" font-size="56">0.229</text>
<text transform="translate(1545.42,424.75) scale(0.9400,1)" font-size="56">0.331</text>
<text transform="translate(1545.71,602.60) scale(0.9462,1)" font-size="56">0.43</text>
<text transform="translate(1542.62,801.95) scale(0.9400,1)" font-size="56">0.531</text>
<text transform="translate(1543.11,967.60) scale(0.9448,1)" font-size="56">0.75</text>
<text transform="translate(1543.12,1098.25) scale(0.9382,1)" font-size="56">0.856</text>
<text transform="translate(441.48,95.80) scale(0.9194,1)" font-size="57">Tg</text>
<text transform="translate(663.07,1505.90) scale(0.9630,1)" font-size="69">Temperature (°C)</text>
<text transform="translate(97.50,1083.27) rotate(-90) scale(0.9778,1)" font-size="67">Reversible Heat Flow (W/g)</text>
<text transform="translate(219.99,1400.60) scale(0.9296,1)" font-size="56">0</text>
<text transform="translate(331.44,1400.60) scale(0.9544,1)" font-size="56">20</text>
<text transform="translate(460.48,1400.60) scale(0.9220,1)" font-size="56">40</text>
<text transform="translate(585.64,1400.60) scale(0.9544,1)" font-size="56">60</text>
<text transform="translate(713.72,1400.60) scale(0.9379,1)" font-size="56">80</text>
<text transform="translate(824.97,1400.60) scale(0.9460,1)" font-size="56">100</text>
<text transform="translate(952.07,1400.60) scale(0.9460,1)" font-size="56">120</text>
<text transform="translate(1079.17,1400.60) scale(0.9460,1)" font-size="56">140</text>
<text transform="translate(1206.27,1400.60) scale(0.9460,1)" font-size="56">160</text>
<text transform="translate(1333.37,1400.60) scale(0.9460,1)" font-size="56">180</text>
<text transform="translate(1461.44,1400.60) scale(0.9352,1)" font-size="56">200</text>
<text transform="translate(1588.54,1400.60) scale(0.9352,1)" font-size="56">220</text>
<!-- arrow -->
<rect x="76.35" y="109" width="3.6" height="155.4" fill="#7a7a7a"/>
<polygon points="76.3,77.3 80.1,77.3 86.2,110 70.2,110" fill="#000"/>
</g>
<!-- crisp axes -->
<rect x="137.1" y="1162.6" width="4.9" height="157.6" fill="#000"/>
<rect x="137.1" y="1315.9" width="1560.5" height="4.4" fill="#000"/>
</svg>
</body></html>
